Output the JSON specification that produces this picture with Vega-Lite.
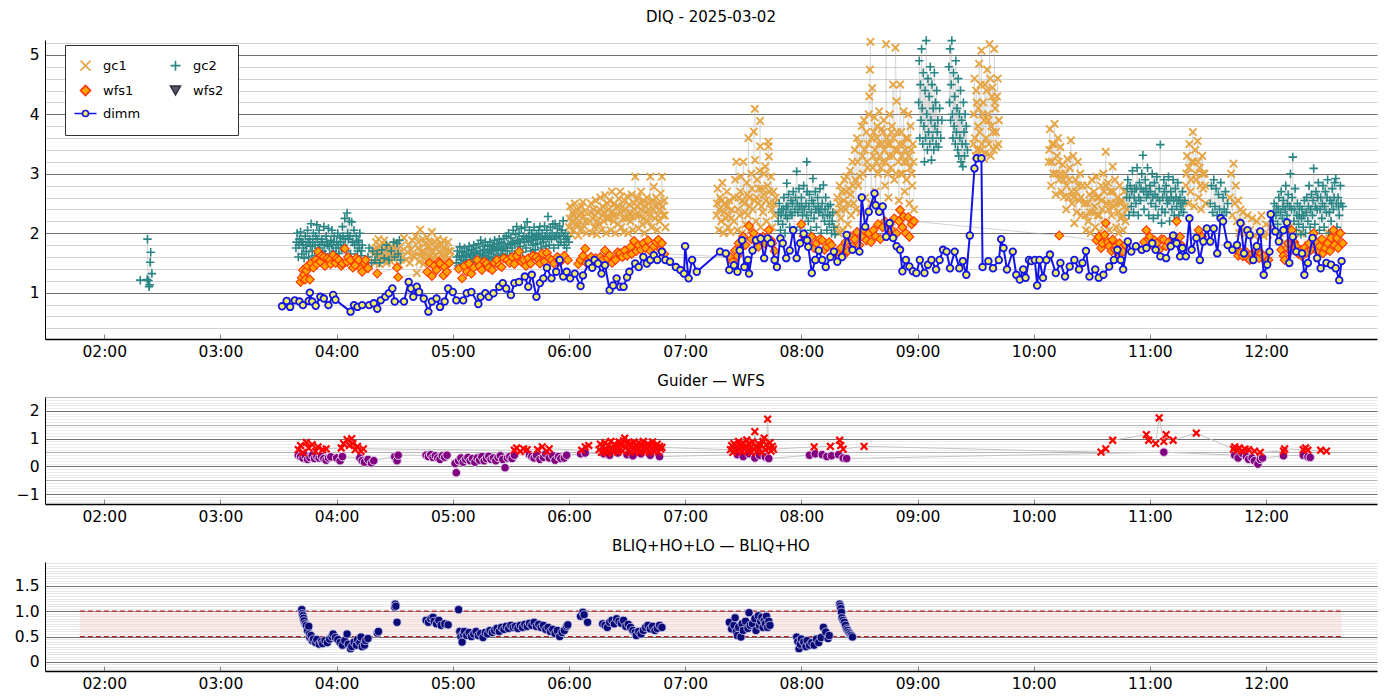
{
"$schema":"https://vega.github.io/schema/vega-lite/v6.json",
"padding":{"left":14,"right":5,"top":10,"bottom":5},
"spacing":14,
"config":{
 "font":"DejaVu Sans",
 "view":{"stroke":null},
 "axis":{"labelFont":"DejaVu Sans","labelFontSize":15.5,"labelColor":"#000","titleFont":"DejaVu Sans"},
 "title":{"font":"DejaVu Sans","fontSize":15,"fontWeight":"normal","color":"#000","offset":8},
 "legend":{"labelFont":"DejaVu Sans"}
},
"datasets":{
"gc1":[
{"t":4.32,"v":1.72,"g":1},{"t":4.33,"v":1.5,"g":1},{"t":4.34,"v":1.85,"g":1},{"t":4.35,"v":1.6,"g":1},{"t":4.36,"v":1.9,"g":1},{"t":4.37,"v":1.48,"g":1},{"t":4.38,"v":1.78,"g":1},{"t":4.39,"v":1.55,"g":1},{"t":4.41,"v":1.88,"g":1},{"t":4.42,"v":1.62,"g":1},{"t":4.43,"v":1.5,"g":1},{"t":4.44,"v":1.8,"g":1},{"t":4.46,"v":1.66,"g":1},{"t":4.47,"v":1.52,"g":1},{"t":4.48,"v":1.75,"g":1},{"t":4.5,"v":1.6,"g":1},{"t":4.52,"v":1.84,"g":1},{"t":4.54,"v":1.47,"g":1},{"t":4.56,"v":1.7,"g":1},{"t":4.58,"v":1.92,"g":1},{"t":4.6,"v":1.55,"g":1},{"t":4.62,"v":1.8,"g":1},{"t":4.63,"v":1.5,"g":1},{"t":4.65,"v":1.88,"g":1},{"t":4.66,"v":1.62,"g":1},{"t":4.68,"v":1.95,"g":1},{"t":4.69,"v":1.33,"g":1},{"t":4.7,"v":1.75,"g":1},{"t":4.71,"v":1.52,"g":1},{"t":4.72,"v":2.06,"g":1},{"t":4.73,"v":1.68,"g":1},{"t":4.74,"v":1.9,"g":1},{"t":4.75,"v":1.48,"g":1},{"t":4.76,"v":1.82,"g":1},{"t":4.77,"v":1.58,"g":1},{"t":4.78,"v":1.93,"g":1},{"t":4.79,"v":1.5,"g":1},{"t":4.8,"v":1.78,"g":1},{"t":4.81,"v":1.62,"g":1},{"t":4.82,"v":2.02,"g":1},{"t":4.83,"v":1.55,"g":1},{"t":4.84,"v":1.86,"g":1},{"t":4.85,"v":1.47,"g":1},{"t":4.86,"v":1.74,"g":1},{"t":4.87,"v":1.9,"g":1},{"t":4.88,"v":1.56,"g":1},{"t":4.9,"v":1.8,"g":1},{"t":4.91,"v":1.5,"g":1},{"t":4.92,"v":1.88,"g":1},{"t":4.93,"v":1.6,"g":1},{"t":4.94,"v":1.72,"g":1},{"t":4.95,"v":1.52,"g":1},{"t":4.96,"v":1.85,"g":1},{"t":4.97,"v":1.58,"g":1},{"t":4.98,"v":1.7,"g":1},
{"t":6.0,"v":2.1,"g":2},{"t":6.01,"v":2.45,"g":2},{"t":6.02,"v":1.98,"g":2},{"t":6.03,"v":2.35,"g":2},{"t":6.04,"v":2.05,"g":2},{"t":6.05,"v":2.5,"g":2},{"t":6.06,"v":2.15,"g":2},{"t":6.07,"v":2.4,"g":2},{"t":6.08,"v":1.96,"g":2},{"t":6.09,"v":2.3,"g":2},{"t":6.1,"v":2.05,"g":2},{"t":6.11,"v":2.45,"g":2},{"t":6.12,"v":2.52,"g":2},{"t":6.13,"v":2.12,"g":2},{"t":6.14,"v":2.38,"g":2},{"t":6.15,"v":2.0,"g":2},{"t":6.18,"v":2.2,"g":2},{"t":6.19,"v":2.5,"g":2},{"t":6.2,"v":2.0,"g":2},{"t":6.21,"v":2.4,"g":2},{"t":6.22,"v":2.1,"g":2},{"t":6.23,"v":2.55,"g":2},{"t":6.24,"v":1.98,"g":2},{"t":6.25,"v":2.35,"g":2},{"t":6.26,"v":2.15,"g":2},{"t":6.27,"v":2.6,"g":2},{"t":6.28,"v":2.05,"g":2},{"t":6.29,"v":2.45,"g":2},{"t":6.3,"v":2.2,"g":2},{"t":6.31,"v":2.64,"g":2},{"t":6.32,"v":2.0,"g":2},{"t":6.33,"v":2.5,"g":2},{"t":6.34,"v":2.25,"g":2},{"t":6.35,"v":2.55,"g":2},{"t":6.36,"v":2.05,"g":2},{"t":6.37,"v":2.7,"g":2},{"t":6.38,"v":2.3,"g":2},{"t":6.39,"v":2.5,"g":2},{"t":6.4,"v":2.0,"g":2},{"t":6.41,"v":2.42,"g":2},{"t":6.42,"v":2.15,"g":2},{"t":6.43,"v":2.58,"g":2},{"t":6.44,"v":2.7,"g":2},{"t":6.45,"v":2.1,"g":2},{"t":6.46,"v":2.45,"g":2},{"t":6.47,"v":2.02,"g":2},{"t":6.48,"v":2.55,"g":2},{"t":6.49,"v":2.25,"g":2},{"t":6.5,"v":2.62,"g":2},{"t":6.51,"v":2.0,"g":2},{"t":6.52,"v":2.48,"g":2},{"t":6.53,"v":2.2,"g":2},{"t":6.54,"v":2.65,"g":2},{"t":6.55,"v":2.05,"g":2},{"t":6.56,"v":2.5,"g":2},{"t":6.57,"v":2.95,"g":2},{"t":6.58,"v":2.3,"g":2},{"t":6.59,"v":2.6,"g":2},{"t":6.6,"v":2.08,"g":2},{"t":6.61,"v":2.5,"g":2},{"t":6.62,"v":2.7,"g":2},{"t":6.63,"v":2.15,"g":2},{"t":6.64,"v":2.55,"g":2},{"t":6.65,"v":2.0,"g":2},{"t":6.66,"v":2.45,"g":2},{"t":6.67,"v":2.6,"g":2},{"t":6.68,"v":2.2,"g":2},{"t":6.69,"v":2.5,"g":2},{"t":6.7,"v":2.95,"g":2},{"t":6.71,"v":2.1,"g":2},{"t":6.72,"v":2.55,"g":2},{"t":6.73,"v":2.78,"g":2},{"t":6.74,"v":2.25,"g":2},{"t":6.75,"v":2.6,"g":2},{"t":6.76,"v":2.05,"g":2},{"t":6.77,"v":2.5,"g":2},{"t":6.78,"v":2.2,"g":2},{"t":6.79,"v":2.67,"g":2},{"t":6.8,"v":2.95,"g":2},{"t":6.81,"v":2.3,"g":2},{"t":6.82,"v":2.55,"g":2},{"t":6.83,"v":2.1,"g":2},
{"t":7.27,"v":2.3,"g":3},{"t":7.28,"v":2.75,"g":3},{"t":7.29,"v":2.05,"g":3},{"t":7.3,"v":2.6,"g":3},{"t":7.31,"v":2.2,"g":3},{"t":7.32,"v":2.85,"g":3},{"t":7.33,"v":2.0,"g":3},{"t":7.34,"v":2.5,"g":3},{"t":7.35,"v":2.25,"g":3},{"t":7.36,"v":2.7,"g":3},{"t":7.37,"v":2.1,"g":3},{"t":7.38,"v":2.55,"g":3},{"t":7.39,"v":2.02,"g":3},{"t":7.4,"v":2.4,"g":3},{"t":7.42,"v":2.2,"g":3},{"t":7.43,"v":2.9,"g":3},{"t":7.44,"v":3.2,"g":3},{"t":7.45,"v":2.05,"g":3},{"t":7.46,"v":2.6,"g":3},{"t":7.47,"v":2.3,"g":3},{"t":7.48,"v":2.95,"g":3},{"t":7.49,"v":2.0,"g":3},{"t":7.5,"v":3.2,"g":3},{"t":7.51,"v":2.5,"g":3},{"t":7.52,"v":2.15,"g":3},{"t":7.53,"v":2.85,"g":3},{"t":7.54,"v":2.3,"g":3},{"t":7.545,"v":3.6,"g":3},{"t":7.55,"v":2.6,"g":3},{"t":7.56,"v":2.05,"g":3},{"t":7.57,"v":3.0,"g":3},{"t":7.58,"v":2.4,"g":3},{"t":7.59,"v":3.71,"g":3},{"t":7.6,"v":4.09,"g":3},{"t":7.602,"v":3.23,"g":3},{"t":7.61,"v":2.2,"g":3},{"t":7.62,"v":2.9,"g":3},{"t":7.63,"v":2.5,"g":3},{"t":7.64,"v":3.05,"g":3},{"t":7.645,"v":3.89,"g":3},{"t":7.646,"v":3.46,"g":3},{"t":7.65,"v":2.1,"g":3},{"t":7.66,"v":2.75,"g":3},{"t":7.67,"v":2.35,"g":3},{"t":7.68,"v":3.0,"g":3},{"t":7.69,"v":3.12,"g":3},{"t":7.7,"v":2.2,"g":3},{"t":7.71,"v":2.8,"g":3},{"t":7.715,"v":3.54,"g":3},{"t":7.717,"v":3.46,"g":3},{"t":7.72,"v":3.29,"g":3},{"t":7.73,"v":2.5,"g":3},{"t":7.74,"v":2.95,"g":3},{"t":7.75,"v":2.1,"g":3},{"t":7.76,"v":2.7,"g":3},{"t":7.77,"v":2.3,"g":3},{"t":7.78,"v":2.6,"g":3},
{"t":8.3,"v":2.1,"g":4},{"t":8.31,"v":2.6,"g":4},{"t":8.32,"v":2.0,"g":4},{"t":8.33,"v":2.8,"g":4},{"t":8.34,"v":2.25,"g":4},{"t":8.35,"v":2.7,"g":4},{"t":8.36,"v":2.05,"g":4},{"t":8.37,"v":2.9,"g":4},{"t":8.38,"v":2.4,"g":4},{"t":8.39,"v":2.95,"g":4},{"t":8.4,"v":2.15,"g":4},{"t":8.41,"v":2.75,"g":4},{"t":8.42,"v":3.05,"g":4},{"t":8.43,"v":2.3,"g":4},{"t":8.44,"v":3.2,"g":4},{"t":8.45,"v":2.5,"g":4},{"t":8.46,"v":3.4,"g":4},{"t":8.47,"v":2.4,"g":4},{"t":8.48,"v":3.6,"g":4},{"t":8.49,"v":2.8,"g":4},{"t":8.5,"v":3.5,"g":4},{"t":8.51,"v":2.35,"g":4},{"t":8.52,"v":3.8,"g":4},{"t":8.53,"v":3.0,"g":4},{"t":8.54,"v":3.9,"g":4},{"t":8.55,"v":2.6,"g":4},{"t":8.56,"v":3.7,"g":4},{"t":8.57,"v":3.1,"g":4},{"t":8.58,"v":4.0,"g":4},{"t":8.585,"v":4.3,"g":4},{"t":8.59,"v":4.75,"g":4},{"t":8.595,"v":5.22,"g":4},{"t":8.6,"v":2.5,"g":4},{"t":8.61,"v":4.44,"g":4},{"t":8.62,"v":3.3,"g":4},{"t":8.63,"v":3.95,"g":4},{"t":8.64,"v":2.7,"g":4},{"t":8.65,"v":3.6,"g":4},{"t":8.66,"v":3.0,"g":4},{"t":8.67,"v":4.05,"g":4},{"t":8.68,"v":2.45,"g":4},{"t":8.69,"v":3.75,"g":4},{"t":8.7,"v":3.2,"g":4},{"t":8.71,"v":3.9,"g":4},{"t":8.72,"v":2.8,"g":4},{"t":8.73,"v":5.18,"g":4},{"t":8.74,"v":3.5,"g":4},{"t":8.75,"v":2.6,"g":4},{"t":8.76,"v":4.0,"g":4},{"t":8.77,"v":3.1,"g":4},{"t":8.78,"v":3.8,"g":4},{"t":8.79,"v":4.5,"g":4},{"t":8.8,"v":2.9,"g":4},{"t":8.81,"v":5.12,"g":4},{"t":8.82,"v":4.22,"g":4},{"t":8.83,"v":3.4,"g":4},{"t":8.84,"v":2.55,"g":4},{"t":8.85,"v":4.5,"g":4},{"t":8.86,"v":3.7,"g":4},{"t":8.87,"v":3.0,"g":4},{"t":8.88,"v":4.05,"g":4},{"t":8.89,"v":2.7,"g":4},{"t":8.9,"v":3.6,"g":4},{"t":8.91,"v":3.2,"g":4},{"t":8.92,"v":4.0,"g":4},{"t":8.93,"v":2.5,"g":4},{"t":8.94,"v":3.8,"g":4},{"t":8.95,"v":3.0,"g":4},{"t":8.96,"v":3.5,"g":4},{"t":8.97,"v":2.4,"g":4},
{"t":9.48,"v":3.5,"g":5},{"t":9.485,"v":4.0,"g":5},{"t":9.49,"v":4.6,"g":5},{"t":9.495,"v":3.6,"g":5},{"t":9.5,"v":3.3,"g":5},{"t":9.505,"v":4.4,"g":5},{"t":9.51,"v":4.2,"g":5},{"t":9.515,"v":3.4,"g":5},{"t":9.52,"v":3.8,"g":5},{"t":9.525,"v":4.1,"g":5},{"t":9.53,"v":4.85,"g":5},{"t":9.535,"v":3.7,"g":5},{"t":9.54,"v":3.4,"g":5},{"t":9.545,"v":4.5,"g":5},{"t":9.55,"v":5.07,"g":5},{"t":9.555,"v":3.5,"g":5},{"t":9.56,"v":4.0,"g":5},{"t":9.565,"v":4.2,"g":5},{"t":9.57,"v":3.26,"g":5},{"t":9.575,"v":3.9,"g":5},{"t":9.58,"v":4.5,"g":5},{"t":9.585,"v":3.35,"g":5},{"t":9.59,"v":3.6,"g":5},{"t":9.595,"v":4.4,"g":5},{"t":9.6,"v":4.75,"g":5},{"t":9.605,"v":4.0,"g":5},{"t":9.61,"v":3.9,"g":5},{"t":9.615,"v":3.5,"g":5},{"t":9.62,"v":5.18,"g":5},{"t":9.625,"v":4.6,"g":5},{"t":9.63,"v":3.3,"g":5},{"t":9.635,"v":3.8,"g":5},{"t":9.64,"v":4.3,"g":5},{"t":9.645,"v":4.45,"g":5},{"t":9.65,"v":3.7,"g":5},{"t":9.655,"v":3.4,"g":5},{"t":9.66,"v":5.1,"g":5},{"t":9.665,"v":4.2,"g":5},{"t":9.67,"v":4.1,"g":5},{"t":9.675,"v":3.7,"g":5},{"t":9.68,"v":3.45,"g":5},{"t":9.685,"v":4.3,"g":5},{"t":9.69,"v":4.6,"g":5},{"t":9.695,"v":3.5,"g":5},{"t":9.7,"v":3.9,"g":5},
{"t":10.13,"v":3.2,"g":6},{"t":10.14,"v":3.75,"g":6},{"t":10.15,"v":2.8,"g":6},{"t":10.16,"v":3.5,"g":6},{"t":10.17,"v":3.0,"g":6},{"t":10.18,"v":3.84,"g":6},{"t":10.19,"v":2.65,"g":6},{"t":10.2,"v":3.3,"g":6},{"t":10.21,"v":3.6,"g":6},{"t":10.22,"v":2.9,"g":6},{"t":10.23,"v":3.45,"g":6},{"t":10.24,"v":2.7,"g":6},{"t":10.25,"v":3.15,"g":6},{"t":10.26,"v":2.61,"g":6},{"t":10.27,"v":3.0,"g":6},{"t":10.28,"v":2.4,"g":6},{"t":10.29,"v":3.25,"g":6},{"t":10.3,"v":2.6,"g":6},{"t":10.31,"v":3.1,"g":6},{"t":10.32,"v":3.56,"g":6},{"t":10.33,"v":2.5,"g":6},{"t":10.34,"v":3.3,"g":6},{"t":10.35,"v":2.17,"g":6},{"t":10.36,"v":2.9,"g":6},{"t":10.37,"v":2.35,"g":6},{"t":10.38,"v":3.2,"g":6},{"t":10.39,"v":2.55,"g":6},{"t":10.4,"v":3.0,"g":6},{"t":10.41,"v":2.3,"g":6},{"t":10.42,"v":2.8,"g":6},{"t":10.44,"v":2.5,"g":6},{"t":10.45,"v":2.05,"g":6},{"t":10.46,"v":2.8,"g":6},{"t":10.47,"v":2.2,"g":6},{"t":10.48,"v":2.65,"g":6},{"t":10.49,"v":2.0,"g":6},{"t":10.5,"v":2.9,"g":6},{"t":10.51,"v":2.35,"g":6},{"t":10.52,"v":2.7,"g":6},{"t":10.53,"v":2.1,"g":6},{"t":10.54,"v":2.95,"g":6},{"t":10.55,"v":2.3,"g":6},{"t":10.56,"v":2.6,"g":6},{"t":10.57,"v":2.02,"g":6},{"t":10.58,"v":2.8,"g":6},{"t":10.59,"v":2.4,"g":6},{"t":10.6,"v":3.0,"g":6},{"t":10.61,"v":2.15,"g":6},{"t":10.62,"v":3.37,"g":6},{"t":10.63,"v":2.5,"g":6},{"t":10.64,"v":2.85,"g":6},{"t":10.65,"v":2.05,"g":6},{"t":10.66,"v":2.7,"g":6},{"t":10.67,"v":2.3,"g":6},{"t":10.68,"v":3.12,"g":6},{"t":10.69,"v":2.45,"g":6},{"t":10.7,"v":2.9,"g":6},{"t":10.71,"v":2.1,"g":6},{"t":10.72,"v":2.6,"g":6},{"t":10.73,"v":2.0,"g":6},{"t":10.74,"v":2.8,"g":6},{"t":10.75,"v":2.25,"g":6},{"t":10.76,"v":2.55,"g":6},{"t":10.77,"v":2.05,"g":6},{"t":10.78,"v":2.7,"g":6},{"t":10.79,"v":2.2,"g":6},{"t":10.8,"v":2.4,"g":6},
{"t":11.31,"v":2.8,"g":7},{"t":11.32,"v":3.3,"g":7},{"t":11.33,"v":2.5,"g":7},{"t":11.34,"v":3.5,"g":7},{"t":11.35,"v":2.7,"g":7},{"t":11.36,"v":3.2,"g":7},{"t":11.37,"v":3.7,"g":7},{"t":11.38,"v":2.45,"g":7},{"t":11.39,"v":3.4,"g":7},{"t":11.4,"v":2.9,"g":7},{"t":11.41,"v":3.55,"g":7},{"t":11.42,"v":2.6,"g":7},{"t":11.43,"v":3.1,"g":7},{"t":11.44,"v":2.4,"g":7},{"t":11.45,"v":3.3,"g":7},{"t":11.46,"v":2.75,"g":7},{"t":11.47,"v":3.0,"g":7},{"t":11.48,"v":2.5,"g":7},
{"t":11.69,"v":2.6,"g":8},{"t":11.7,"v":3.0,"g":8},{"t":11.71,"v":2.3,"g":8},{"t":11.72,"v":3.17,"g":8},{"t":11.73,"v":2.5,"g":8},{"t":11.74,"v":2.8,"g":8},{"t":11.75,"v":2.2,"g":8},{"t":11.76,"v":2.55,"g":8},{"t":11.77,"v":2.0,"g":8},{"t":11.78,"v":2.4,"g":8},{"t":11.79,"v":2.1,"g":8},{"t":11.8,"v":2.35,"g":8},{"t":11.82,"v":1.98,"g":8},{"t":11.84,"v":2.3,"g":8},{"t":11.86,"v":2.05,"g":8},{"t":11.88,"v":2.25,"g":8},{"t":11.9,"v":1.95,"g":8},{"t":11.92,"v":2.2,"g":8},{"t":11.94,"v":2.0,"g":8},{"t":11.96,"v":2.3,"g":8},{"t":11.98,"v":1.95,"g":8},{"t":12.0,"v":2.15,"g":8},{"t":12.02,"v":1.98,"g":8},{"t":12.04,"v":2.1,"g":8},{"t":12.12,"v":2.0,"g":8},{"t":12.16,"v":1.85,"g":8},{"t":12.2,"v":2.1,"g":8},{"t":12.25,"v":1.9,"g":8},{"t":12.3,"v":2.0,"g":8},{"t":12.36,"v":1.8,"g":8},{"t":12.42,"v":1.95,"g":8},{"t":12.48,"v":1.85,"g":8},{"t":12.54,"v":2.0,"g":8},{"t":12.6,"v":1.9,"g":8}
],
"gc1b":[
{"t":4.325,"v":1.65},{"t":4.345,"v":1.75},{"t":4.365,"v":1.68},{"t":4.385,"v":1.62},{"t":4.405,"v":1.72},{"t":4.425,"v":1.78},{"t":4.455,"v":1.6},{"t":4.475,"v":1.7},{"t":4.505,"v":1.75},{"t":4.53,"v":1.65},{"t":4.55,"v":1.78},{"t":4.57,"v":1.6},{"t":4.61,"v":1.68},{"t":4.64,"v":1.72},{"t":4.67,"v":1.6},{"t":4.705,"v":1.85},{"t":4.725,"v":1.62},{"t":4.745,"v":1.7},{"t":4.765,"v":1.65},{"t":4.785,"v":1.75},{"t":4.805,"v":1.85},{"t":4.825,"v":1.7},{"t":4.845,"v":1.62},{"t":4.865,"v":1.8},{"t":4.885,"v":1.68},{"t":4.905,"v":1.65},{"t":4.925,"v":1.75},{"t":4.945,"v":1.62},{"t":4.965,"v":1.7},
{"t":6.005,"v":2.25},{"t":6.025,"v":2.2},{"t":6.045,"v":2.3},{"t":6.065,"v":2.25},{"t":6.085,"v":2.15},{"t":6.105,"v":2.35},{"t":6.125,"v":2.28},{"t":6.145,"v":2.2},{"t":6.185,"v":2.35},{"t":6.205,"v":2.25},{"t":6.225,"v":2.3},{"t":6.245,"v":2.2},{"t":6.265,"v":2.4},{"t":6.285,"v":2.3},{"t":6.305,"v":2.35},{"t":6.325,"v":2.25},{"t":6.345,"v":2.4},{"t":6.365,"v":2.35},{"t":6.385,"v":2.2},{"t":6.405,"v":2.3},{"t":6.425,"v":2.45},{"t":6.445,"v":2.35},{"t":6.465,"v":2.25},{"t":6.485,"v":2.4},{"t":6.505,"v":2.3},{"t":6.525,"v":2.35},{"t":6.545,"v":2.28},{"t":6.565,"v":2.4},{"t":6.585,"v":2.45},{"t":6.605,"v":2.3},{"t":6.625,"v":2.4},{"t":6.645,"v":2.25},{"t":6.665,"v":2.35},{"t":6.685,"v":2.4},{"t":6.705,"v":2.3},{"t":6.725,"v":2.4},{"t":6.745,"v":2.45},{"t":6.765,"v":2.3},{"t":6.785,"v":2.4},{"t":6.805,"v":2.45},{"t":6.825,"v":2.3},
{"t":7.275,"v":2.5},{"t":7.295,"v":2.4},{"t":7.315,"v":2.55},{"t":7.335,"v":2.35},{"t":7.355,"v":2.45},{"t":7.375,"v":2.3},{"t":7.395,"v":2.25},{"t":7.425,"v":2.6},{"t":7.455,"v":2.4},{"t":7.475,"v":2.7},{"t":7.495,"v":2.55},{"t":7.515,"v":2.35},{"t":7.535,"v":2.65},{"t":7.555,"v":2.45},{"t":7.575,"v":2.75},{"t":7.595,"v":2.55},{"t":7.615,"v":2.6},{"t":7.635,"v":2.75},{"t":7.655,"v":2.45},{"t":7.675,"v":2.65},{"t":7.695,"v":2.55},{"t":7.725,"v":2.7},{"t":7.745,"v":2.4},{"t":7.765,"v":2.5},
{"t":8.305,"v":2.35},{"t":8.325,"v":2.5},{"t":8.345,"v":2.4},{"t":8.365,"v":2.55},{"t":8.385,"v":2.7},{"t":8.405,"v":2.5},{"t":8.425,"v":2.65},{"t":8.445,"v":2.8},{"t":8.465,"v":2.9},{"t":8.485,"v":3.2},{"t":8.505,"v":2.95},{"t":8.525,"v":3.3},{"t":8.545,"v":3.4},{"t":8.565,"v":3.2},{"t":8.575,"v":3.5},{"t":8.605,"v":3.6},{"t":8.615,"v":3.1},{"t":8.625,"v":3.7},{"t":8.635,"v":3.4},{"t":8.645,"v":3.2},{"t":8.655,"v":3.8},{"t":8.665,"v":3.5},{"t":8.675,"v":3.3},{"t":8.685,"v":3.1},{"t":8.695,"v":3.5},{"t":8.705,"v":3.7},{"t":8.715,"v":3.4},{"t":8.725,"v":3.2},{"t":8.735,"v":3.6},{"t":8.745,"v":3.0},{"t":8.755,"v":3.3},{"t":8.765,"v":3.5},{"t":8.775,"v":3.7},{"t":8.785,"v":3.3},{"t":8.795,"v":3.6},{"t":8.805,"v":3.4},{"t":8.815,"v":3.0},{"t":8.825,"v":3.7},{"t":8.835,"v":3.2},{"t":8.845,"v":3.5},{"t":8.855,"v":3.0},{"t":8.865,"v":3.3},{"t":8.875,"v":3.5},{"t":8.885,"v":3.2},{"t":8.895,"v":3.4},{"t":8.905,"v":2.9},{"t":8.915,"v":3.6},{"t":8.925,"v":3.3},{"t":8.935,"v":3.1},{"t":8.945,"v":3.4},{"t":8.955,"v":2.8},{"t":8.965,"v":3.2},
{"t":10.135,"v":3.4},{"t":10.155,"v":3.2},{"t":10.175,"v":3.5},{"t":10.195,"v":3.0},{"t":10.215,"v":3.2},{"t":10.235,"v":3.0},{"t":10.255,"v":2.9},{"t":10.285,"v":2.8},{"t":10.305,"v":2.9},{"t":10.325,"v":2.7},{"t":10.345,"v":2.6},{"t":10.365,"v":2.7},{"t":10.385,"v":2.8},{"t":10.405,"v":2.6},{"t":10.445,"v":2.3},{"t":10.465,"v":2.5},{"t":10.485,"v":2.35},{"t":10.505,"v":2.6},{"t":10.525,"v":2.45},{"t":10.545,"v":2.6},{"t":10.565,"v":2.3},{"t":10.585,"v":2.55},{"t":10.605,"v":2.7},{"t":10.625,"v":2.8},{"t":10.645,"v":2.4},{"t":10.665,"v":2.5},{"t":10.685,"v":2.7},{"t":10.705,"v":2.5},{"t":10.725,"v":2.35},{"t":10.745,"v":2.5},{"t":10.765,"v":2.3},{"t":10.785,"v":2.45},
{"t":11.315,"v":3.0},{"t":11.335,"v":3.1},{"t":11.355,"v":2.9},{"t":11.375,"v":3.2},{"t":11.395,"v":3.0},{"t":11.415,"v":3.2},{"t":11.435,"v":2.8},{"t":11.455,"v":3.0},{"t":11.475,"v":2.8}
],
"gc2":[
{"t":2.31,"v":1.21,"g":1},{"t":2.37,"v":1.22,"g":1},{"t":2.372,"v":1.9,"g":1},{"t":2.38,"v":1.2,"g":1},{"t":2.385,"v":1.1,"g":1},{"t":2.39,"v":1.13,"g":1},{"t":2.395,"v":1.51,"g":1},{"t":2.4,"v":1.68,"g":1},{"t":2.41,"v":1.32,"g":1},
{"t":3.65,"v":1.75,"g":2},{"t":3.66,"v":2.0,"g":2},{"t":3.67,"v":1.6,"g":2},{"t":3.68,"v":1.9,"g":2},{"t":3.69,"v":2.02,"g":2},{"t":3.7,"v":1.65,"g":2},{"t":3.71,"v":1.85,"g":2},{"t":3.72,"v":1.58,"g":2},{"t":3.73,"v":1.95,"g":2},{"t":3.74,"v":1.69,"g":2},{"t":3.75,"v":2.05,"g":2},{"t":3.76,"v":1.6,"g":2},{"t":3.77,"v":1.9,"g":2},{"t":3.78,"v":2.16,"g":2},{"t":3.79,"v":1.7,"g":2},{"t":3.8,"v":2.0,"g":2},{"t":3.81,"v":1.62,"g":2},{"t":3.82,"v":1.95,"g":2},{"t":3.83,"v":2.14,"g":2},{"t":3.84,"v":1.75,"g":2},{"t":3.85,"v":2.05,"g":2},{"t":3.86,"v":1.6,"g":2},{"t":3.87,"v":1.9,"g":2},{"t":3.88,"v":1.7,"g":2},{"t":3.89,"v":2.11,"g":2},{"t":3.9,"v":1.65,"g":2},{"t":3.91,"v":1.95,"g":2},{"t":3.92,"v":1.8,"g":2},{"t":3.93,"v":2.08,"g":2},{"t":3.94,"v":1.62,"g":2},{"t":3.95,"v":1.88,"g":2},{"t":3.96,"v":2.05,"g":2},{"t":3.97,"v":1.7,"g":2},{"t":3.98,"v":1.95,"g":2},{"t":3.99,"v":1.6,"g":2},{"t":4.0,"v":1.85,"g":2},{"t":4.01,"v":2.0,"g":2},{"t":4.02,"v":1.66,"g":2},{"t":4.03,"v":1.92,"g":2},{"t":4.04,"v":1.75,"g":2},{"t":4.05,"v":2.11,"g":2},{"t":4.06,"v":1.8,"g":2},{"t":4.07,"v":2.25,"g":2},{"t":4.08,"v":1.7,"g":2},{"t":4.09,"v":2.34,"g":2},{"t":4.1,"v":1.9,"g":2},{"t":4.11,"v":2.2,"g":2},{"t":4.12,"v":1.65,"g":2},{"t":4.13,"v":2.19,"g":2},{"t":4.14,"v":1.85,"g":2},{"t":4.15,"v":2.05,"g":2},{"t":4.16,"v":1.6,"g":2},{"t":4.17,"v":1.95,"g":2},{"t":4.18,"v":1.7,"g":2},{"t":4.19,"v":1.88,"g":2},{"t":4.2,"v":2.0,"g":2},{"t":4.21,"v":1.62,"g":2},{"t":4.22,"v":1.8,"g":2},{"t":4.27,"v":1.6,"g":2},{"t":4.28,"v":1.75,"g":2},{"t":4.3,"v":1.5,"g":2},{"t":4.31,"v":1.7,"g":2},{"t":4.33,"v":1.55,"g":2},{"t":4.35,"v":1.65,"g":2},{"t":4.37,"v":1.5,"g":2},{"t":4.39,"v":1.72,"g":2},{"t":4.41,"v":1.58,"g":2},{"t":4.43,"v":1.8,"g":2},{"t":4.45,"v":1.55,"g":2},{"t":4.47,"v":1.7,"g":2},{"t":4.49,"v":1.85,"g":2},{"t":4.5,"v":1.6,"g":2},{"t":4.52,"v":1.83,"g":2},{"t":4.53,"v":1.65,"g":2},{"t":4.54,"v":1.88,"g":2},{"t":4.55,"v":1.55,"g":2},
{"t":5.03,"v":1.5,"g":3},{"t":5.04,"v":1.7,"g":3},{"t":5.05,"v":1.45,"g":3},{"t":5.06,"v":1.77,"g":3},{"t":5.07,"v":1.55,"g":3},{"t":5.08,"v":1.68,"g":3},{"t":5.09,"v":1.48,"g":3},{"t":5.1,"v":1.75,"g":3},{"t":5.11,"v":1.52,"g":3},{"t":5.12,"v":1.7,"g":3},{"t":5.13,"v":1.5,"g":3},{"t":5.14,"v":1.78,"g":3},{"t":5.15,"v":1.55,"g":3},{"t":5.16,"v":1.72,"g":3},{"t":5.17,"v":1.47,"g":3},{"t":5.18,"v":1.8,"g":3},{"t":5.19,"v":1.58,"g":3},{"t":5.2,"v":1.75,"g":3},{"t":5.21,"v":1.5,"g":3},{"t":5.22,"v":1.82,"g":3},{"t":5.23,"v":1.6,"g":3},{"t":5.24,"v":1.88,"g":3},{"t":5.25,"v":1.52,"g":3},{"t":5.26,"v":1.78,"g":3},{"t":5.27,"v":1.62,"g":3},{"t":5.28,"v":1.85,"g":3},{"t":5.29,"v":1.55,"g":3},{"t":5.3,"v":1.8,"g":3},{"t":5.31,"v":1.6,"g":3},{"t":5.32,"v":1.85,"g":3},{"t":5.33,"v":1.58,"g":3},{"t":5.34,"v":1.78,"g":3},{"t":5.35,"v":1.65,"g":3},{"t":5.36,"v":1.88,"g":3},{"t":5.37,"v":1.55,"g":3},{"t":5.38,"v":1.82,"g":3},{"t":5.39,"v":1.62,"g":3},{"t":5.4,"v":1.9,"g":3},{"t":5.41,"v":1.58,"g":3},{"t":5.42,"v":1.85,"g":3},{"t":5.43,"v":1.65,"g":3},{"t":5.44,"v":1.91,"g":3},{"t":5.45,"v":1.6,"g":3},{"t":5.46,"v":1.95,"g":3},{"t":5.47,"v":1.7,"g":3},{"t":5.48,"v":2.0,"g":3},{"t":5.49,"v":1.62,"g":3},{"t":5.5,"v":1.92,"g":3},{"t":5.51,"v":1.75,"g":3},{"t":5.52,"v":2.05,"g":3},{"t":5.53,"v":1.65,"g":3},{"t":5.54,"v":1.98,"g":3},{"t":5.55,"v":2.11,"g":3},{"t":5.56,"v":1.7,"g":3},{"t":5.57,"v":2.0,"g":3},{"t":5.58,"v":1.78,"g":3},{"t":5.59,"v":2.08,"g":3},{"t":5.6,"v":1.68,"g":3},{"t":5.61,"v":1.95,"g":3},{"t":5.62,"v":2.1,"g":3},{"t":5.63,"v":1.75,"g":3},{"t":5.64,"v":2.19,"g":3},{"t":5.65,"v":1.85,"g":3},{"t":5.66,"v":2.05,"g":3},{"t":5.67,"v":1.7,"g":3},{"t":5.68,"v":2.0,"g":3},{"t":5.69,"v":1.8,"g":3},{"t":5.7,"v":2.1,"g":3},{"t":5.71,"v":1.72,"g":3},{"t":5.72,"v":1.98,"g":3},{"t":5.73,"v":1.82,"g":3},{"t":5.74,"v":2.05,"g":3},{"t":5.75,"v":2.11,"g":3},{"t":5.76,"v":1.75,"g":3},{"t":5.77,"v":2.0,"g":3},{"t":5.78,"v":1.85,"g":3},{"t":5.79,"v":2.12,"g":3},{"t":5.8,"v":1.78,"g":3},{"t":5.81,"v":2.05,"g":3},{"t":5.82,"v":2.28,"g":3},{"t":5.83,"v":1.8,"g":3},{"t":5.84,"v":2.1,"g":3},{"t":5.85,"v":1.9,"g":3},{"t":5.86,"v":2.15,"g":3},{"t":5.87,"v":1.75,"g":3},{"t":5.88,"v":2.16,"g":3},{"t":5.89,"v":1.95,"g":3},{"t":5.9,"v":2.08,"g":3},{"t":5.91,"v":1.8,"g":3},{"t":5.92,"v":2.12,"g":3},{"t":5.93,"v":1.85,"g":3},{"t":5.94,"v":2.05,"g":3},{"t":5.95,"v":2.21,"g":3},{"t":5.96,"v":1.8,"g":3},{"t":5.97,"v":2.0,"g":3},{"t":5.98,"v":1.75,"g":3},{"t":5.99,"v":1.94,"g":3},{"t":6.0,"v":1.85,"g":3},
{"t":7.8,"v":2.2,"g":4},{"t":7.81,"v":2.5,"g":4},{"t":7.82,"v":2.05,"g":4},{"t":7.83,"v":2.4,"g":4},{"t":7.84,"v":2.15,"g":4},{"t":7.85,"v":2.6,"g":4},{"t":7.86,"v":2.0,"g":4},{"t":7.87,"v":2.45,"g":4},{"t":7.875,"v":2.84,"g":4},{"t":7.88,"v":2.25,"g":4},{"t":7.89,"v":2.65,"g":4},{"t":7.9,"v":2.1,"g":4},{"t":7.91,"v":2.55,"g":4},{"t":7.92,"v":2.3,"g":4},{"t":7.93,"v":2.7,"g":4},{"t":7.94,"v":2.05,"g":4},{"t":7.95,"v":2.6,"g":4},{"t":7.96,"v":3.04,"g":4},{"t":7.97,"v":2.35,"g":4},{"t":7.98,"v":2.75,"g":4},{"t":7.99,"v":2.1,"g":4},{"t":8.0,"v":2.6,"g":4},{"t":8.01,"v":2.3,"g":4},{"t":8.02,"v":2.8,"g":4},{"t":8.03,"v":2.0,"g":4},{"t":8.04,"v":2.5,"g":4},{"t":8.047,"v":3.2,"g":4},{"t":8.05,"v":2.7,"g":4},{"t":8.06,"v":2.2,"g":4},{"t":8.07,"v":2.65,"g":4},{"t":8.08,"v":2.05,"g":4},{"t":8.09,"v":2.55,"g":4},{"t":8.1,"v":2.92,"g":4},{"t":8.11,"v":2.25,"g":4},{"t":8.12,"v":2.7,"g":4},{"t":8.13,"v":2.1,"g":4},{"t":8.14,"v":2.6,"g":4},{"t":8.15,"v":2.35,"g":4},{"t":8.16,"v":2.75,"g":4},{"t":8.17,"v":2.0,"g":4},{"t":8.18,"v":2.5,"g":4},{"t":8.19,"v":2.81,"g":4},{"t":8.2,"v":2.2,"g":4},{"t":8.21,"v":2.6,"g":4},{"t":8.22,"v":2.05,"g":4},{"t":8.23,"v":2.45,"g":4},{"t":8.24,"v":2.15,"g":4},{"t":8.25,"v":2.48,"g":4},{"t":8.26,"v":2.0,"g":4},{"t":8.27,"v":2.35,"g":4},{"t":8.28,"v":2.1,"g":4},{"t":8.29,"v":1.98,"g":4},
{"t":9.01,"v":4.2,"g":5},{"t":9.015,"v":4.9,"g":5},{"t":9.02,"v":3.6,"g":5},{"t":9.025,"v":4.5,"g":5},{"t":9.03,"v":3.9,"g":5},{"t":9.035,"v":5.1,"g":5},{"t":9.04,"v":4.1,"g":5},{"t":9.045,"v":3.5,"g":5},{"t":9.05,"v":4.7,"g":5},{"t":9.055,"v":3.8,"g":5},{"t":9.06,"v":3.2,"g":5},{"t":9.065,"v":4.4,"g":5},{"t":9.07,"v":3.6,"g":5},{"t":9.075,"v":5.24,"g":5},{"t":9.08,"v":4.0,"g":5},{"t":9.085,"v":3.4,"g":5},{"t":9.09,"v":4.6,"g":5},{"t":9.095,"v":3.7,"g":5},{"t":9.1,"v":4.3,"g":5},{"t":9.105,"v":3.5,"g":5},{"t":9.11,"v":4.8,"g":5},{"t":9.115,"v":3.9,"g":5},{"t":9.12,"v":3.23,"g":5},{"t":9.125,"v":4.5,"g":5},{"t":9.13,"v":3.6,"g":5},{"t":9.135,"v":4.1,"g":5},{"t":9.14,"v":3.4,"g":5},{"t":9.145,"v":4.7,"g":5},{"t":9.15,"v":3.8,"g":5},{"t":9.155,"v":4.2,"g":5},{"t":9.16,"v":3.5,"g":5},{"t":9.165,"v":4.4,"g":5},{"t":9.17,"v":3.7,"g":5},{"t":9.175,"v":3.9,"g":5},{"t":9.18,"v":3.45,"g":5},{"t":9.19,"v":4.1,"g":5},{"t":9.2,"v":3.6,"g":5},{"t":9.21,"v":3.9,"g":5},
{"t":9.27,"v":4.8,"g":6},{"t":9.275,"v":4.2,"g":6},{"t":9.28,"v":5.1,"g":6},{"t":9.285,"v":3.9,"g":6},{"t":9.29,"v":4.5,"g":6},{"t":9.295,"v":5.24,"g":6},{"t":9.3,"v":4.0,"g":6},{"t":9.305,"v":3.6,"g":6},{"t":9.31,"v":4.7,"g":6},{"t":9.315,"v":3.8,"g":6},{"t":9.32,"v":4.3,"g":6},{"t":9.325,"v":3.5,"g":6},{"t":9.33,"v":4.9,"g":6},{"t":9.335,"v":3.7,"g":6},{"t":9.34,"v":4.1,"g":6},{"t":9.345,"v":3.4,"g":6},{"t":9.35,"v":4.6,"g":6},{"t":9.355,"v":3.3,"g":6},{"t":9.36,"v":4.0,"g":6},{"t":9.365,"v":3.6,"g":6},{"t":9.37,"v":4.4,"g":6},{"t":9.375,"v":3.2,"g":6},{"t":9.38,"v":3.9,"g":6},{"t":9.385,"v":3.5,"g":6},{"t":9.39,"v":3.12,"g":6},{"t":9.395,"v":4.2,"g":6},{"t":9.4,"v":3.7,"g":6},{"t":9.405,"v":3.3,"g":6},{"t":9.41,"v":4.0,"g":6},{"t":9.415,"v":3.5,"g":6},{"t":9.42,"v":3.8,"g":6},{"t":9.43,"v":3.4,"g":6},
{"t":10.8,"v":2.6,"g":7},{"t":10.81,"v":2.9,"g":7},{"t":10.82,"v":2.3,"g":7},{"t":10.83,"v":2.8,"g":7},{"t":10.84,"v":2.45,"g":7},{"t":10.85,"v":3.05,"g":7},{"t":10.86,"v":2.35,"g":7},{"t":10.87,"v":2.75,"g":7},{"t":10.88,"v":2.5,"g":7},{"t":10.89,"v":3.1,"g":7},{"t":10.9,"v":2.3,"g":7},{"t":10.91,"v":2.85,"g":7},{"t":10.92,"v":2.55,"g":7},{"t":10.93,"v":3.0,"g":7},{"t":10.94,"v":3.31,"g":7},{"t":10.95,"v":2.4,"g":7},{"t":10.96,"v":2.9,"g":7},{"t":10.97,"v":2.6,"g":7},{"t":10.98,"v":3.1,"g":7},{"t":10.99,"v":2.3,"g":7},{"t":11.0,"v":2.8,"g":7},{"t":11.01,"v":2.5,"g":7},{"t":11.02,"v":3.0,"g":7},{"t":11.03,"v":2.25,"g":7},{"t":11.04,"v":2.85,"g":7},{"t":11.05,"v":2.45,"g":7},{"t":11.06,"v":2.95,"g":7},{"t":11.07,"v":2.3,"g":7},{"t":11.08,"v":2.75,"g":7},{"t":11.09,"v":3.49,"g":7},{"t":11.1,"v":2.17,"g":7},{"t":11.11,"v":2.6,"g":7},{"t":11.12,"v":2.9,"g":7},{"t":11.13,"v":2.35,"g":7},{"t":11.14,"v":2.8,"g":7},{"t":11.15,"v":2.5,"g":7},{"t":11.16,"v":2.95,"g":7},{"t":11.17,"v":2.2,"g":7},{"t":11.18,"v":2.7,"g":7},{"t":11.19,"v":2.4,"g":7},{"t":11.2,"v":2.9,"g":7},{"t":11.21,"v":2.3,"g":7},{"t":11.22,"v":2.75,"g":7},{"t":11.23,"v":2.45,"g":7},{"t":11.24,"v":2.85,"g":7},{"t":11.25,"v":2.3,"g":7},{"t":11.26,"v":2.6,"g":7},{"t":11.27,"v":2.4,"g":7},{"t":11.28,"v":2.7,"g":7},{"t":11.29,"v":2.35,"g":7},{"t":11.3,"v":2.55,"g":7},
{"t":11.52,"v":2.5,"g":8},{"t":11.53,"v":2.8,"g":8},{"t":11.54,"v":2.35,"g":8},{"t":11.55,"v":2.9,"g":8},{"t":11.56,"v":2.45,"g":8},{"t":11.57,"v":2.75,"g":8},{"t":11.58,"v":2.3,"g":8},{"t":11.59,"v":2.65,"g":8},{"t":11.6,"v":2.4,"g":8},{"t":11.61,"v":2.85,"g":8},{"t":11.62,"v":2.3,"g":8},{"t":11.63,"v":2.6,"g":8},{"t":11.64,"v":2.4,"g":8},{"t":11.65,"v":2.7,"g":8},{"t":11.66,"v":2.35,"g":8},{"t":11.67,"v":2.5,"g":8},
{"t":12.06,"v":2.2,"g":9},{"t":12.07,"v":2.5,"g":9},{"t":12.08,"v":2.05,"g":9},{"t":12.09,"v":2.45,"g":9},{"t":12.1,"v":2.15,"g":9},{"t":12.11,"v":2.6,"g":9},{"t":12.12,"v":2.0,"g":9},{"t":12.13,"v":2.7,"g":9},{"t":12.14,"v":2.25,"g":9},{"t":12.15,"v":2.55,"g":9},{"t":12.16,"v":2.1,"g":9},{"t":12.17,"v":2.8,"g":9},{"t":12.18,"v":2.3,"g":9},{"t":12.19,"v":2.65,"g":9},{"t":12.2,"v":2.05,"g":9},{"t":12.21,"v":3.0,"g":9},{"t":12.22,"v":2.4,"g":9},{"t":12.23,"v":3.28,"g":9},{"t":12.24,"v":2.2,"g":9},{"t":12.25,"v":2.75,"g":9},{"t":12.26,"v":2.05,"g":9},{"t":12.27,"v":2.5,"g":9},{"t":12.28,"v":2.15,"g":9},{"t":12.29,"v":2.45,"g":9},{"t":12.3,"v":1.98,"g":9},{"t":12.31,"v":2.4,"g":9},{"t":12.32,"v":2.1,"g":9},{"t":12.33,"v":2.55,"g":9},{"t":12.34,"v":2.0,"g":9},{"t":12.35,"v":2.6,"g":9},{"t":12.36,"v":2.2,"g":9},{"t":12.37,"v":2.8,"g":9},{"t":12.38,"v":2.1,"g":9},{"t":12.39,"v":2.65,"g":9},{"t":12.4,"v":2.3,"g":9},{"t":12.41,"v":3.09,"g":9},{"t":12.42,"v":2.15,"g":9},{"t":12.43,"v":2.7,"g":9},{"t":12.44,"v":2.4,"g":9},{"t":12.45,"v":2.85,"g":9},{"t":12.46,"v":2.05,"g":9},{"t":12.47,"v":2.6,"g":9},{"t":12.48,"v":2.25,"g":9},{"t":12.49,"v":2.8,"g":9},{"t":12.5,"v":2.1,"g":9},{"t":12.51,"v":2.7,"g":9},{"t":12.52,"v":2.35,"g":9},{"t":12.53,"v":2.9,"g":9},{"t":12.54,"v":2.0,"g":9},{"t":12.55,"v":2.55,"g":9},{"t":12.56,"v":2.2,"g":9},{"t":12.57,"v":2.75,"g":9},{"t":12.58,"v":2.4,"g":9},{"t":12.59,"v":2.85,"g":9},{"t":12.6,"v":2.92,"g":9},{"t":12.61,"v":2.1,"g":9},{"t":12.62,"v":2.6,"g":9},{"t":12.63,"v":2.3,"g":9},{"t":12.64,"v":2.8,"g":9},{"t":12.65,"v":2.0,"g":9},{"t":12.66,"v":2.45,"g":9}
],
"gc2b":[
{"t":3.655,"v":1.85},{"t":3.675,"v":1.8},{"t":3.695,"v":1.85},{"t":3.715,"v":1.75},{"t":3.735,"v":1.8},{"t":3.755,"v":1.85},{"t":3.775,"v":1.78},{"t":3.795,"v":1.85},{"t":3.815,"v":1.8},{"t":3.835,"v":1.9},{"t":3.855,"v":1.8},{"t":3.875,"v":1.85},{"t":3.895,"v":1.8},{"t":3.915,"v":1.85},{"t":3.935,"v":1.78},{"t":3.955,"v":1.8},{"t":3.975,"v":1.85},{"t":3.995,"v":1.75},{"t":4.015,"v":1.8},{"t":4.035,"v":1.85},{"t":4.055,"v":1.95},{"t":4.075,"v":1.9},{"t":4.095,"v":2.0},{"t":4.115,"v":1.95},{"t":4.135,"v":1.85},{"t":4.155,"v":1.8},{"t":4.175,"v":1.85},{"t":4.195,"v":1.75},{"t":4.215,"v":1.7},
{"t":5.035,"v":1.6},{"t":5.055,"v":1.62},{"t":5.075,"v":1.6},{"t":5.095,"v":1.62},{"t":5.115,"v":1.6},{"t":5.135,"v":1.65},{"t":5.155,"v":1.62},{"t":5.175,"v":1.65},{"t":5.195,"v":1.68},{"t":5.215,"v":1.65},{"t":5.235,"v":1.7},{"t":5.255,"v":1.65},{"t":5.275,"v":1.72},{"t":5.295,"v":1.68},{"t":5.315,"v":1.72},{"t":5.335,"v":1.7},{"t":5.355,"v":1.75},{"t":5.375,"v":1.72},{"t":5.395,"v":1.75},{"t":5.415,"v":1.72},{"t":5.435,"v":1.78},{"t":5.455,"v":1.75},{"t":5.475,"v":1.82},{"t":5.495,"v":1.8},{"t":5.515,"v":1.85},{"t":5.535,"v":1.82},{"t":5.555,"v":1.88},{"t":5.575,"v":1.85},{"t":5.595,"v":1.9},{"t":5.615,"v":1.85},{"t":5.635,"v":1.92},{"t":5.655,"v":1.95},{"t":5.675,"v":1.88},{"t":5.695,"v":1.92},{"t":5.715,"v":1.9},{"t":5.735,"v":1.95},{"t":5.755,"v":1.92},{"t":5.775,"v":1.9},{"t":5.795,"v":1.95},{"t":5.815,"v":1.92},{"t":5.835,"v":1.95},{"t":5.855,"v":2.0},{"t":5.875,"v":1.95},{"t":5.895,"v":1.92},{"t":5.915,"v":1.95},{"t":5.935,"v":2.0},{"t":5.955,"v":1.95},{"t":5.975,"v":1.9},
{"t":7.805,"v":2.35},{"t":7.825,"v":2.3},{"t":7.845,"v":2.4},{"t":7.865,"v":2.3},{"t":7.885,"v":2.45},{"t":7.905,"v":2.35},{"t":7.925,"v":2.5},{"t":7.945,"v":2.4},{"t":7.965,"v":2.5},{"t":7.985,"v":2.45},{"t":8.005,"v":2.45},{"t":8.025,"v":2.4},{"t":8.045,"v":2.3},{"t":8.065,"v":2.45},{"t":8.085,"v":2.35},{"t":8.105,"v":2.5},{"t":8.125,"v":2.4},{"t":8.145,"v":2.45},{"t":8.165,"v":2.4},{"t":8.185,"v":2.3},{"t":8.205,"v":2.4},{"t":8.225,"v":2.3},{"t":8.245,"v":2.3},{"t":8.265,"v":2.2},
{"t":10.805,"v":2.75},{"t":10.825,"v":2.6},{"t":10.845,"v":2.7},{"t":10.865,"v":2.6},{"t":10.885,"v":2.75},{"t":10.905,"v":2.6},{"t":10.925,"v":2.75},{"t":10.945,"v":2.7},{"t":10.965,"v":2.75},{"t":10.985,"v":2.65},{"t":11.005,"v":2.7},{"t":11.025,"v":2.6},{"t":11.045,"v":2.65},{"t":11.065,"v":2.6},{"t":11.085,"v":2.55},{"t":11.105,"v":2.4},{"t":11.125,"v":2.7},{"t":11.145,"v":2.6},{"t":11.165,"v":2.55},{"t":11.185,"v":2.6},{"t":11.205,"v":2.55},{"t":11.225,"v":2.6},{"t":11.245,"v":2.55},{"t":11.265,"v":2.5},{"t":11.285,"v":2.5},
{"t":12.065,"v":2.35},{"t":12.085,"v":2.3},{"t":12.105,"v":2.4},{"t":12.125,"v":2.35},{"t":12.145,"v":2.45},{"t":12.165,"v":2.4},{"t":12.185,"v":2.5},{"t":12.205,"v":2.45},{"t":12.225,"v":2.6},{"t":12.245,"v":2.4},{"t":12.265,"v":2.3},{"t":12.285,"v":2.3},{"t":12.305,"v":2.25},{"t":12.325,"v":2.3},{"t":12.345,"v":2.35},{"t":12.365,"v":2.45},{"t":12.385,"v":2.4},{"t":12.405,"v":2.55},{"t":12.425,"v":2.45},{"t":12.445,"v":2.6},{"t":12.465,"v":2.4},{"t":12.485,"v":2.5},{"t":12.505,"v":2.45},{"t":12.525,"v":2.6},{"t":12.545,"v":2.35},{"t":12.565,"v":2.5},{"t":12.585,"v":2.6},{"t":12.605,"v":2.5},{"t":12.625,"v":2.45},{"t":12.645,"v":2.5}
],
"wfs1":[
{"t":3.69,"v":1.18},{"t":3.7,"v":1.25},{"t":3.71,"v":1.38},{"t":3.72,"v":1.3},{"t":3.73,"v":1.22},{"t":3.74,"v":1.37},{"t":3.75,"v":1.45},{"t":3.77,"v":1.22},{"t":3.78,"v":1.5},{"t":3.8,"v":1.42},{"t":3.82,"v":1.55},{"t":3.83,"v":1.48},{"t":3.84,"v":1.69},{"t":3.86,"v":1.52},{"t":3.87,"v":1.62},{"t":3.89,"v":1.6},{"t":3.9,"v":1.45},{"t":3.92,"v":1.58},{"t":3.94,"v":1.55},{"t":3.95,"v":1.48},{"t":3.97,"v":1.63},{"t":3.99,"v":1.5},{"t":4.0,"v":1.58},{"t":4.02,"v":1.55},{"t":4.04,"v":1.45},{"t":4.05,"v":1.49},{"t":4.07,"v":1.74},{"t":4.09,"v":1.52},{"t":4.1,"v":1.6},{"t":4.12,"v":1.55},{"t":4.14,"v":1.42},{"t":4.16,"v":1.46},{"t":4.17,"v":1.58},{"t":4.19,"v":1.55},{"t":4.21,"v":1.4},{"t":4.22,"v":1.35},{"t":4.24,"v":1.5},{"t":4.25,"v":1.55},{"t":4.27,"v":1.41},{"t":4.35,"v":1.32},{"t":4.52,"v":1.42},{"t":4.53,"v":1.26},
{"t":4.78,"v":1.35},{"t":4.8,"v":1.5},{"t":4.82,"v":1.28},{"t":4.84,"v":1.45},{"t":4.86,"v":1.38},{"t":4.88,"v":1.52},{"t":4.89,"v":1.49},{"t":4.92,"v":1.29},{"t":4.93,"v":1.43},{"t":4.95,"v":1.35},{"t":4.97,"v":1.5},
{"t":5.05,"v":1.4},{"t":5.08,"v":1.24},{"t":5.1,"v":1.45},{"t":5.12,"v":1.35},{"t":5.14,"v":1.49},{"t":5.16,"v":1.32},{"t":5.18,"v":1.42},{"t":5.21,"v":1.55},{"t":5.23,"v":1.45},{"t":5.25,"v":1.38},{"t":5.27,"v":1.52},{"t":5.29,"v":1.49},{"t":5.31,"v":1.42},{"t":5.34,"v":1.38},{"t":5.36,"v":1.5},{"t":5.38,"v":1.55},{"t":5.4,"v":1.46},{"t":5.42,"v":1.43},{"t":5.44,"v":1.58},{"t":5.47,"v":1.55},{"t":5.49,"v":1.5},{"t":5.51,"v":1.6},{"t":5.53,"v":1.48},{"t":5.55,"v":1.62},{"t":5.57,"v":1.69},{"t":5.59,"v":1.52},{"t":5.61,"v":1.55},{"t":5.63,"v":1.45},{"t":5.65,"v":1.58},{"t":5.67,"v":1.49},{"t":5.69,"v":1.62},{"t":5.72,"v":1.6},{"t":5.74,"v":1.55},{"t":5.75,"v":1.49},{"t":5.77,"v":1.66},{"t":5.79,"v":1.52},{"t":5.81,"v":1.67},{"t":5.83,"v":1.58},{"t":5.85,"v":1.55},{"t":5.87,"v":1.49},{"t":5.9,"v":1.6},{"t":5.92,"v":1.52},{"t":5.94,"v":1.55},{"t":5.96,"v":1.62},{"t":5.99,"v":1.55},
{"t":6.08,"v":1.48},{"t":6.1,"v":1.55},{"t":6.12,"v":1.62},{"t":6.14,"v":1.74},{"t":6.15,"v":1.5},{"t":6.17,"v":1.55},{"t":6.19,"v":1.6},{"t":6.21,"v":1.49},{"t":6.23,"v":1.58},{"t":6.25,"v":1.52},{"t":6.27,"v":1.6},{"t":6.29,"v":1.55},{"t":6.31,"v":1.71},{"t":6.33,"v":1.58},{"t":6.35,"v":1.63},{"t":6.37,"v":1.5},{"t":6.4,"v":1.55},{"t":6.42,"v":1.68},{"t":6.44,"v":1.66},{"t":6.46,"v":1.6},{"t":6.48,"v":1.71},{"t":6.5,"v":1.62},{"t":6.53,"v":1.77},{"t":6.54,"v":1.65},{"t":6.56,"v":1.87},{"t":6.58,"v":1.7},{"t":6.6,"v":1.8},{"t":6.62,"v":1.72},{"t":6.64,"v":1.83},{"t":6.66,"v":1.75},{"t":6.68,"v":1.88},{"t":6.7,"v":1.7},{"t":6.73,"v":1.78},{"t":6.75,"v":1.85},{"t":6.77,"v":1.89},{"t":6.79,"v":1.72},{"t":6.8,"v":1.83},{"t":6.82,"v":1.65},
{"t":7.39,"v":1.6},{"t":7.41,"v":1.52},{"t":7.43,"v":1.71},{"t":7.45,"v":1.62},{"t":7.46,"v":1.83},{"t":7.48,"v":1.75},{"t":7.5,"v":1.94},{"t":7.52,"v":1.8},{"t":7.55,"v":2.12},{"t":7.57,"v":1.9},{"t":7.59,"v":2.0},{"t":7.61,"v":1.85},{"t":7.63,"v":1.77},{"t":7.65,"v":1.92},{"t":7.67,"v":1.94},{"t":7.69,"v":1.82},{"t":7.72,"v":2.05},{"t":7.74,"v":1.88},{"t":7.75,"v":1.83},{"t":7.77,"v":1.7},
{"t":8.0,"v":2.15},{"t":8.02,"v":1.95},{"t":8.05,"v":1.88},{"t":8.07,"v":1.8},{"t":8.09,"v":1.94},{"t":8.11,"v":1.75},{"t":8.13,"v":1.83},{"t":8.16,"v":1.9},{"t":8.18,"v":1.88},{"t":8.2,"v":1.72},{"t":8.22,"v":1.77},{"t":8.24,"v":1.85},{"t":8.26,"v":1.8},{"t":8.28,"v":1.65},{"t":8.31,"v":1.69},
{"t":8.34,"v":1.75},{"t":8.36,"v":1.62},{"t":8.38,"v":1.85},{"t":8.4,"v":1.7},{"t":8.42,"v":1.95},{"t":8.44,"v":1.78},{"t":8.46,"v":1.9},{"t":8.48,"v":2.02},{"t":8.5,"v":1.8},{"t":8.52,"v":1.95},{"t":8.54,"v":2.05},{"t":8.56,"v":1.88},{"t":8.58,"v":2.0},{"t":8.6,"v":1.85},{"t":8.62,"v":2.05},{"t":8.64,"v":1.95},{"t":8.66,"v":2.15},{"t":8.68,"v":1.9},{"t":8.7,"v":2.1},{"t":8.72,"v":2.2},{"t":8.74,"v":1.95},{"t":8.76,"v":2.15},{"t":8.78,"v":2.05},{"t":8.8,"v":2.25},{"t":8.82,"v":2.0},{"t":8.84,"v":2.2},{"t":8.85,"v":2.39},{"t":8.87,"v":2.1},{"t":8.88,"v":2.28},{"t":8.9,"v":2.0},{"t":8.92,"v":2.27},{"t":8.93,"v":1.94},{"t":8.95,"v":2.15},{"t":8.97,"v":2.2},
{"t":10.22,"v":1.96},
{"t":10.54,"v":1.88},{"t":10.56,"v":1.94},{"t":10.58,"v":1.75},{"t":10.59,"v":1.83},{"t":10.61,"v":1.97},{"t":10.62,"v":2.17},{"t":10.64,"v":1.85},{"t":10.65,"v":1.78},{"t":10.67,"v":1.7},{"t":10.68,"v":1.89},{"t":10.7,"v":1.72},{"t":10.71,"v":1.78},{"t":10.73,"v":1.66},{"t":10.74,"v":1.83},{"t":10.76,"v":1.75},{"t":10.77,"v":1.69},{"t":10.79,"v":1.8},
{"t":10.95,"v":1.85},{"t":10.97,"v":2.05},{"t":10.99,"v":1.9},{"t":11.0,"v":1.94},{"t":11.02,"v":1.8},{"t":11.04,"v":1.88},{"t":11.06,"v":1.83},{"t":11.08,"v":1.72},{"t":11.1,"v":1.9},{"t":11.12,"v":1.89},{"t":11.14,"v":1.78},{"t":11.16,"v":1.85},{"t":11.18,"v":1.8},{"t":11.2,"v":1.92},{"t":11.23,"v":2.2},{"t":11.24,"v":1.85},{"t":11.26,"v":1.94},{"t":11.28,"v":1.78},
{"t":11.42,"v":2.05},{"t":11.45,"v":1.94},
{"t":11.74,"v":1.72},{"t":11.76,"v":1.62},{"t":11.78,"v":1.68},{"t":11.8,"v":1.61},{"t":11.82,"v":1.7},{"t":11.84,"v":1.58},{"t":11.86,"v":1.55},{"t":11.88,"v":1.65},{"t":11.9,"v":1.6},{"t":11.92,"v":1.72},{"t":11.94,"v":1.58},{"t":11.96,"v":1.66},{"t":11.98,"v":1.61},{"t":12.0,"v":1.52},{"t":12.02,"v":1.55},
{"t":12.13,"v":1.72},{"t":12.15,"v":1.62},{"t":12.16,"v":1.55},{"t":12.18,"v":1.75},{"t":12.19,"v":1.83},{"t":12.21,"v":1.7},{"t":12.22,"v":2.05},{"t":12.24,"v":1.85},{"t":12.26,"v":1.78},{"t":12.28,"v":1.65},{"t":12.3,"v":1.72},{"t":12.31,"v":1.61},{"t":12.33,"v":1.75},{"t":12.35,"v":1.68},{"t":12.37,"v":1.83},{"t":12.39,"v":1.72},{"t":12.41,"v":2.0},{"t":12.43,"v":1.85},{"t":12.44,"v":1.7},{"t":12.46,"v":1.78},{"t":12.48,"v":1.9},{"t":12.49,"v":1.66},{"t":12.51,"v":1.75},{"t":12.53,"v":1.83},{"t":12.55,"v":1.7},{"t":12.56,"v":1.92},{"t":12.58,"v":2.05},{"t":12.59,"v":1.8},{"t":12.61,"v":1.92},{"t":12.62,"v":1.75},{"t":12.64,"v":2.0},{"t":12.66,"v":1.83}
],
"dimm":[
{"t":3.53,"v":0.77},{"t":3.57,"v":0.86},{"t":3.6,"v":0.76},{"t":3.64,"v":0.87},{"t":3.68,"v":0.85},{"t":3.71,"v":0.79},{"t":3.76,"v":0.86},{"t":3.77,"v":1.0},{"t":3.79,"v":0.85},{"t":3.82,"v":0.78},{"t":3.86,"v":0.93},{"t":3.89,"v":0.9},{"t":3.93,"v":0.79},{"t":3.97,"v":0.96},{"t":3.99,"v":0.88},{"t":4.12,"v":0.68},{"t":4.15,"v":0.79},{"t":4.18,"v":0.76},{"t":4.22,"v":0.79},{"t":4.28,"v":0.79},{"t":4.32,"v":0.82},{"t":4.35,"v":0.73},{"t":4.38,"v":0.87},{"t":4.42,"v":0.93},{"t":4.45,"v":0.99},{"t":4.48,"v":1.07},{"t":4.5,"v":0.85},{"t":4.58,"v":0.85},{"t":4.62,"v":1.18},{"t":4.64,"v":1.07},{"t":4.66,"v":0.93},{"t":4.69,"v":1.1},{"t":4.71,"v":1.01},{"t":4.75,"v":0.9},{"t":4.79,"v":0.68},{"t":4.82,"v":0.85},{"t":4.86,"v":0.9},
{"t":4.89,"v":0.76},{"t":4.93,"v":0.85},{"t":4.96,"v":1.07},{"t":5.0,"v":1.01},{"t":5.03,"v":0.87},{"t":5.09,"v":0.87},{"t":5.12,"v":0.99},{"t":5.16,"v":1.01},{"t":5.22,"v":0.81},{"t":5.24,"v":0.93},{"t":5.28,"v":0.99},{"t":5.31,"v":0.93},{"t":5.35,"v":0.99},{"t":5.4,"v":1.1},{"t":5.43,"v":1.16},{"t":5.46,"v":1.07},{"t":5.5,"v":0.96},{"t":5.53,"v":1.16},{"t":5.57,"v":1.18},{"t":5.62,"v":1.27},{"t":5.65,"v":1.1},{"t":5.68,"v":1.3},{"t":5.72,"v":0.93},{"t":5.75,"v":1.16},{"t":5.78,"v":1.24},{"t":5.81,"v":1.42},{"t":5.85,"v":1.24},{"t":5.89,"v":1.35},{"t":5.92,"v":1.55},{"t":5.95,"v":1.27},{"t":5.98,"v":1.35},{"t":6.01,"v":1.24},{"t":6.05,"v":1.32},{"t":6.1,"v":1.11},{"t":6.12,"v":1.29},{"t":6.17,"v":1.49},{"t":6.2,"v":1.42},{"t":6.22,"v":1.55},{"t":6.25,"v":1.49},{"t":6.28,"v":1.32},{"t":6.31,"v":1.46},{"t":6.35,"v":1.04},{"t":6.38,"v":1.12},{"t":6.41,"v":1.24},{"t":6.44,"v":1.1},{"t":6.47,"v":1.1},{"t":6.5,"v":1.26},{"t":6.52,"v":1.35},{"t":6.57,"v":1.49},{"t":6.6,"v":1.43},{"t":6.64,"v":1.6},{"t":6.67,"v":1.49},{"t":6.7,"v":1.55},{"t":6.73,"v":1.63},{"t":6.76,"v":1.55},{"t":6.8,"v":1.69},{"t":6.83,"v":1.55},{"t":6.87,"v":1.52},{"t":6.92,"v":1.43},{"t":6.96,"v":1.38},{"t":6.99,"v":1.32},{"t":7.0,"v":1.78},{"t":7.03,"v":1.24},{"t":7.06,"v":1.55},{"t":7.1,"v":1.35},{"t":7.3,"v":1.69},{"t":7.35,"v":1.66},{"t":7.38,"v":1.38},{"t":7.42,"v":1.46},{"t":7.45,"v":1.35},{"t":7.47,"v":1.71},{"t":7.49,"v":1.88},{"t":7.51,"v":1.43},{"t":7.54,"v":1.55},{"t":7.55,"v":1.32},{"t":7.58,"v":1.71},{"t":7.61,"v":1.88},{"t":7.65,"v":1.91},{"t":7.68,"v":1.58},{"t":7.71,"v":1.91},{"t":7.74,"v":1.83},{"t":7.77,"v":1.55},{"t":7.79,"v":1.43},{"t":7.82,"v":1.91},{"t":7.84,"v":1.83},{"t":7.87,"v":1.58},{"t":7.9,"v":1.71},{"t":7.93,"v":2.05},{"t":7.96,"v":1.58},{"t":7.99,"v":1.83},{"t":8.02,"v":1.99},{"t":8.05,"v":1.88},{"t":8.06,"v":1.77},{"t":8.09,"v":1.33},{"t":8.12,"v":1.55},{"t":8.15,"v":1.71},{"t":8.18,"v":1.55},{"t":8.21,"v":1.43},{"t":8.25,"v":1.6},{"t":8.28,"v":1.69},{"t":8.31,"v":1.52},{"t":8.35,"v":1.6},
{"t":8.39,"v":1.97},{"t":8.44,"v":1.72},{"t":8.5,"v":1.69},{"t":8.52,"v":2.6},{"t":8.55,"v":2.11},{"t":8.58,"v":2.36},{"t":8.63,"v":2.67},{"t":8.64,"v":2.47},{"t":8.67,"v":2.36},{"t":8.7,"v":2.45},{"t":8.73,"v":1.94},{"t":8.76,"v":2.17},{"t":8.79,"v":1.92},{"t":8.82,"v":1.78},{"t":8.85,"v":1.72},{"t":8.87,"v":1.36},{"t":8.9,"v":1.55},{"t":8.93,"v":1.44},{"t":8.96,"v":1.36},{"t":8.99,"v":1.33},{"t":9.02,"v":1.55},{"t":9.06,"v":1.33},{"t":9.09,"v":1.47},{"t":9.12,"v":1.55},{"t":9.16,"v":1.39},{"t":9.19,"v":1.55},{"t":9.22,"v":1.72},{"t":9.25,"v":1.69},{"t":9.28,"v":1.41},{"t":9.32,"v":1.69},{"t":9.36,"v":1.41},{"t":9.39,"v":1.53},{"t":9.42,"v":1.3},{"t":9.45,"v":1.96},{"t":9.49,"v":3.09},{"t":9.51,"v":3.26},{"t":9.55,"v":3.26},{"t":9.56,"v":1.43},{"t":9.61,"v":1.53},{"t":9.65,"v":1.41},{"t":9.7,"v":1.55},{"t":9.72,"v":1.9},{"t":9.74,"v":1.75},{"t":9.77,"v":1.39},{"t":9.82,"v":1.69},{"t":9.85,"v":1.3},{"t":9.88,"v":1.22},{"t":9.91,"v":1.39},{"t":9.93,"v":1.25},{"t":9.96,"v":1.55},{"t":9.98,"v":1.53},{"t":10.01,"v":1.55},{"t":10.03,"v":1.12},{"t":10.05,"v":1.55},{"t":10.08,"v":1.25},{"t":10.11,"v":1.55},{"t":10.14,"v":1.64},{"t":10.19,"v":1.33},{"t":10.23,"v":1.5},{"t":10.27,"v":1.27},{"t":10.31,"v":1.44},{"t":10.35,"v":1.55},{"t":10.39,"v":1.39},{"t":10.42,"v":1.5},{"t":10.45,"v":1.7},{"t":10.48,"v":1.27},{"t":10.53,"v":1.39},{"t":10.56,"v":1.25},{"t":10.6,"v":1.3},{"t":10.65,"v":1.44},{"t":10.69,"v":1.55},{"t":10.72,"v":1.72},{"t":10.75,"v":1.55},{"t":10.77,"v":1.39},{"t":10.81,"v":1.86},{"t":10.84,"v":1.69},{"t":10.88,"v":1.78},{"t":10.93,"v":1.72},{"t":10.97,"v":1.75},{"t":11.02,"v":1.83},{"t":11.05,"v":1.72},{"t":11.09,"v":1.61},{"t":11.14,"v":1.58},{"t":11.18,"v":1.78},{"t":11.2,"v":1.96},{"t":11.23,"v":1.83},{"t":11.26,"v":1.61},{"t":11.28,"v":1.75},{"t":11.31,"v":1.61},{"t":11.34,"v":2.25},{"t":11.36,"v":1.72},{"t":11.4,"v":1.92},{"t":11.43,"v":1.55},{"t":11.46,"v":1.86},{"t":11.49,"v":2.08},{"t":11.52,"v":1.86},{"t":11.55,"v":2.08},{"t":11.58,"v":1.66},{"t":11.61,"v":2.25},{"t":11.63,"v":2.2},{"t":11.67,"v":1.8},{"t":11.71,"v":1.72},{"t":11.75,"v":1.8},{"t":11.78,"v":2.17},{"t":11.81,"v":1.66},{"t":11.84,"v":2.05},{"t":11.86,"v":1.97},{"t":11.89,"v":1.55},{"t":11.92,"v":1.78},{"t":11.95,"v":2.03},{"t":11.98,"v":1.3},{"t":12.01,"v":1.47},{"t":12.03,"v":1.69},{"t":12.04,"v":2.32},{"t":12.08,"v":2.03},{"t":12.11,"v":1.86},{"t":12.15,"v":2.05},{"t":12.18,"v":2.18},{"t":12.2,"v":1.5},{"t":12.23,"v":1.94},{"t":12.26,"v":1.69},{"t":12.31,"v":1.66},{"t":12.33,"v":1.3},{"t":12.36,"v":1.5},{"t":12.4,"v":1.92},{"t":12.44,"v":1.58},{"t":12.47,"v":1.41},{"t":12.52,"v":1.5},{"t":12.56,"v":1.47},{"t":12.6,"v":1.41},{"t":12.63,"v":1.21},{"t":12.65,"v":1.53}
],
"gr":[
{"t":3.67,"v":0.6},{"t":3.69,"v":0.75},{"t":3.71,"v":0.49},{"t":3.74,"v":0.86},{"t":3.76,"v":0.66},{"t":3.79,"v":0.78},{"t":3.82,"v":0.54},{"t":3.84,"v":0.7},{"t":3.88,"v":0.6},{"t":3.91,"v":0.63},{"t":4.04,"v":0.66},{"t":4.06,"v":0.82},{"t":4.09,"v":0.96},{"t":4.11,"v":0.75},{"t":4.13,"v":1.0},{"t":4.14,"v":0.82},{"t":4.16,"v":0.6},{"t":4.18,"v":0.72},{"t":4.21,"v":0.54},{"t":4.23,"v":0.63},
{"t":5.53,"v":0.58},{"t":5.55,"v":0.66},{"t":5.58,"v":0.54},{"t":5.61,"v":0.63},{"t":5.64,"v":0.6},{"t":5.73,"v":0.6},{"t":5.77,"v":0.7},{"t":5.81,"v":0.54},{"t":5.83,"v":0.63},{"t":6.11,"v":0.58},{"t":6.14,"v":0.7},{"t":6.17,"v":0.75},
{"t":6.26,"v":0.6},{"t":6.27,"v":0.8},{"t":6.28,"v":0.5},{"t":6.29,"v":0.7},{"t":6.3,"v":0.55},{"t":6.31,"v":0.85},{"t":6.32,"v":0.62},{"t":6.33,"v":0.48},{"t":6.34,"v":0.75},{"t":6.35,"v":0.58},{"t":6.36,"v":0.9},{"t":6.37,"v":0.65},{"t":6.38,"v":0.5},{"t":6.39,"v":0.8},{"t":6.4,"v":0.6},{"t":6.41,"v":0.72},{"t":6.42,"v":0.52},{"t":6.43,"v":0.88},{"t":6.44,"v":0.62},{"t":6.45,"v":0.78},{"t":6.46,"v":0.55},{"t":6.47,"v":0.92},{"t":6.48,"v":1.02},{"t":6.49,"v":0.68},{"t":6.5,"v":0.85},{"t":6.51,"v":0.58},{"t":6.52,"v":0.8},{"t":6.53,"v":0.5},{"t":6.54,"v":0.75},{"t":6.55,"v":0.62},{"t":6.56,"v":0.88},{"t":6.57,"v":0.55},{"t":6.58,"v":0.72},{"t":6.59,"v":0.6},{"t":6.6,"v":0.85},{"t":6.61,"v":0.5},{"t":6.62,"v":0.78},{"t":6.63,"v":0.64},{"t":6.64,"v":0.9},{"t":6.65,"v":0.55},{"t":6.66,"v":0.7},{"t":6.67,"v":0.6},{"t":6.68,"v":0.82},{"t":6.69,"v":0.5},{"t":6.7,"v":0.75},{"t":6.71,"v":0.62},{"t":6.72,"v":0.88},{"t":6.73,"v":0.55},{"t":6.74,"v":0.7},{"t":6.75,"v":0.6},{"t":6.76,"v":0.8},{"t":6.77,"v":0.52},{"t":6.78,"v":0.72},{"t":6.79,"v":0.62},{"t":6.8,"v":0.68},
{"t":7.39,"v":0.6},{"t":7.4,"v":0.75},{"t":7.41,"v":0.5},{"t":7.42,"v":0.82},{"t":7.43,"v":0.62},{"t":7.44,"v":0.7},{"t":7.45,"v":0.55},{"t":7.46,"v":0.9},{"t":7.47,"v":0.65},{"t":7.48,"v":0.78},{"t":7.49,"v":0.52},{"t":7.5,"v":0.85},{"t":7.51,"v":0.6},{"t":7.52,"v":0.72},{"t":7.53,"v":0.95},{"t":7.54,"v":0.58},{"t":7.55,"v":0.8},{"t":7.56,"v":0.66},{"t":7.57,"v":0.5},{"t":7.58,"v":0.88},{"t":7.59,"v":0.62},{"t":7.6,"v":1.25},{"t":7.61,"v":0.7},{"t":7.62,"v":0.55},{"t":7.63,"v":0.82},{"t":7.64,"v":0.64},{"t":7.65,"v":0.76},{"t":7.66,"v":0.5},{"t":7.67,"v":0.9},{"t":7.68,"v":1.02},{"t":7.69,"v":0.6},{"t":7.7,"v":0.78},{"t":7.71,"v":1.7},{"t":7.72,"v":0.65},{"t":7.73,"v":0.85},{"t":7.74,"v":0.55},{"t":7.75,"v":0.72},{"t":7.76,"v":0.62},
{"t":8.11,"v":0.7},{"t":8.25,"v":0.72},{"t":8.33,"v":0.94},{"t":8.34,"v":0.75},{"t":8.36,"v":0.62},{"t":8.54,"v":0.72},
{"t":10.58,"v":0.51},{"t":10.62,"v":0.63},{"t":10.68,"v":0.94},{"t":10.97,"v":1.14},{"t":10.99,"v":0.94},{"t":11.05,"v":0.82},{"t":11.08,"v":1.75},{"t":11.12,"v":0.9},{"t":11.14,"v":1.14},{"t":11.2,"v":0.94},{"t":11.4,"v":1.2},
{"t":11.72,"v":0.62},{"t":11.73,"v":0.7},{"t":11.75,"v":0.58},{"t":11.77,"v":0.66},{"t":11.79,"v":0.55},{"t":11.82,"v":0.62},{"t":11.85,"v":0.6},{"t":11.9,"v":0.55},{"t":11.95,"v":0.5},{"t":12.15,"v":0.55},{"t":12.16,"v":0.63},{"t":12.32,"v":0.6},{"t":12.34,"v":0.66},{"t":12.36,"v":0.58},{"t":12.47,"v":0.58},{"t":12.52,"v":0.55}
],
"pp":[
{"t":3.67,"v":0.4},{"t":3.69,"v":0.35},{"t":3.71,"v":0.3},{"t":3.73,"v":0.38},{"t":3.75,"v":0.25},{"t":3.77,"v":0.32},{"t":3.79,"v":0.4},{"t":3.81,"v":0.28},{"t":3.83,"v":0.35},{"t":3.85,"v":0.3},{"t":3.87,"v":0.36},{"t":3.89,"v":0.28},{"t":3.91,"v":0.22},{"t":3.93,"v":0.3},{"t":3.95,"v":0.34},{"t":4.0,"v":0.3},{"t":4.03,"v":0.2},{"t":4.05,"v":0.35},{"t":4.2,"v":0.3},{"t":4.22,"v":0.2},{"t":4.24,"v":0.15},{"t":4.27,"v":0.25},{"t":4.3,"v":0.12},{"t":4.32,"v":0.2},{"t":4.5,"v":0.35},{"t":4.52,"v":0.2},{"t":4.53,"v":0.4},
{"t":4.77,"v":0.4},{"t":4.79,"v":0.35},{"t":4.81,"v":0.42},{"t":4.83,"v":0.32},{"t":4.85,"v":0.38},{"t":4.87,"v":0.3},{"t":4.89,"v":0.25},{"t":4.91,"v":0.38},{"t":4.93,"v":0.33},{"t":4.95,"v":0.4},
{"t":5.02,"v":0.1},{"t":5.03,"v":-0.23},{"t":5.05,"v":0.2},{"t":5.07,"v":0.3},{"t":5.09,"v":0.15},{"t":5.11,"v":0.25},{"t":5.13,"v":0.32},{"t":5.15,"v":0.2},{"t":5.17,"v":0.28},{"t":5.19,"v":0.15},{"t":5.21,"v":0.3},{"t":5.23,"v":0.22},{"t":5.25,"v":0.35},{"t":5.27,"v":0.2},{"t":5.29,"v":0.28},{"t":5.31,"v":0.36},{"t":5.33,"v":0.25},{"t":5.35,"v":0.3},{"t":5.37,"v":0.2},{"t":5.39,"v":0.32},{"t":5.41,"v":0.38},{"t":5.43,"v":0.25},{"t":5.45,"v":-0.05},{"t":5.47,"v":0.3},{"t":5.49,"v":0.35},{"t":5.51,"v":0.28},{"t":5.53,"v":0.4},
{"t":5.66,"v":0.42},{"t":5.68,"v":0.35},{"t":5.7,"v":0.3},{"t":5.72,"v":0.4},{"t":5.75,"v":0.25},{"t":5.78,"v":0.32},{"t":5.8,"v":0.45},{"t":5.83,"v":0.3},{"t":5.86,"v":0.38},{"t":5.88,"v":0.22},{"t":5.91,"v":0.35},{"t":5.93,"v":0.28},{"t":5.96,"v":0.3},{"t":5.98,"v":0.4},{"t":6.1,"v":0.45},{"t":6.14,"v":0.48},
{"t":6.3,"v":0.45},{"t":6.35,"v":0.4},{"t":6.42,"v":0.48},{"t":6.5,"v":0.42},{"t":6.55,"v":0.38},{"t":6.62,"v":0.45},{"t":6.7,"v":0.4},{"t":6.78,"v":0.35},
{"t":7.45,"v":0.42},{"t":7.5,"v":0.35},{"t":7.55,"v":0.45},{"t":7.6,"v":0.3},{"t":7.64,"v":0.4},{"t":7.69,"v":0.34},{"t":7.72,"v":0.28},
{"t":8.07,"v":0.4},{"t":8.12,"v":0.45},{"t":8.18,"v":0.42},{"t":8.22,"v":0.35},{"t":8.26,"v":0.38},{"t":8.32,"v":0.42},{"t":8.36,"v":0.3},{"t":8.39,"v":0.28},
{"t":11.12,"v":0.51},
{"t":11.73,"v":0.4},{"t":11.76,"v":0.3},{"t":11.8,"v":0.45},{"t":11.83,"v":0.35},{"t":11.85,"v":0.25},{"t":11.88,"v":0.3},{"t":11.9,"v":0.2},{"t":11.93,"v":0.08},{"t":11.95,"v":0.25},{"t":11.97,"v":0.3},
{"t":12.15,"v":0.38},{"t":12.32,"v":0.4},{"t":12.36,"v":0.34},{"t":12.38,"v":0.32}
],
"bq":[
{"t":3.7,"v":1.03},{"t":3.705,"v":0.95},{"t":3.71,"v":0.91},{"t":3.715,"v":0.86},{"t":3.72,"v":0.81},{"t":3.73,"v":0.75},{"t":3.74,"v":0.72},{"t":3.75,"v":0.62},{"t":3.76,"v":0.7},{"t":3.765,"v":0.55},{"t":3.77,"v":0.48},{"t":3.78,"v":0.52},{"t":3.79,"v":0.42},{"t":3.8,"v":0.45},{"t":3.82,"v":0.38},{"t":3.83,"v":0.44},{"t":3.85,"v":0.35},{"t":3.87,"v":0.4},{"t":3.88,"v":0.36},{"t":3.9,"v":0.42},{"t":3.92,"v":0.38},{"t":3.94,"v":0.45},{"t":3.96,"v":0.5},{"t":3.97,"v":0.55},{"t":3.99,"v":0.48},{"t":4.01,"v":0.44},{"t":4.03,"v":0.38},{"t":4.05,"v":0.33},{"t":4.07,"v":0.42},{"t":4.09,"v":0.55},{"t":4.1,"v":0.35},{"t":4.12,"v":0.26},{"t":4.13,"v":0.3},{"t":4.15,"v":0.39},{"t":4.17,"v":0.33},{"t":4.18,"v":0.44},{"t":4.2,"v":0.38},{"t":4.21,"v":0.49},{"t":4.22,"v":0.3},{"t":4.24,"v":0.33},{"t":4.25,"v":0.42},{"t":4.27,"v":0.46},{"t":4.35,"v":0.57},{"t":4.36,"v":0.6},
{"t":4.5,"v":1.08},{"t":4.505,"v":1.14},{"t":4.51,"v":1.1},{"t":4.52,"v":0.78},
{"t":4.77,"v":0.82},{"t":4.79,"v":0.78},{"t":4.81,"v":0.85},{"t":4.83,"v":0.88},{"t":4.84,"v":0.8},{"t":4.86,"v":0.75},{"t":4.88,"v":0.82},{"t":4.9,"v":0.72},{"t":4.93,"v":0.75},{"t":4.96,"v":0.73},
{"t":5.05,"v":1.03},{"t":5.06,"v":0.6},{"t":5.07,"v":0.5},{"t":5.08,"v":0.39},{"t":5.09,"v":0.55},{"t":5.1,"v":0.6},{"t":5.12,"v":0.52},{"t":5.14,"v":0.58},{"t":5.16,"v":0.5},{"t":5.18,"v":0.55},{"t":5.2,"v":0.6},{"t":5.22,"v":0.52},{"t":5.24,"v":0.56},{"t":5.26,"v":0.48},{"t":5.28,"v":0.58},{"t":5.3,"v":0.55},{"t":5.32,"v":0.62},{"t":5.34,"v":0.58},{"t":5.36,"v":0.62},{"t":5.38,"v":0.66},{"t":5.4,"v":0.6},{"t":5.42,"v":0.68},{"t":5.44,"v":0.64},{"t":5.46,"v":0.7},{"t":5.48,"v":0.66},{"t":5.5,"v":0.72},{"t":5.52,"v":0.68},{"t":5.54,"v":0.7},{"t":5.56,"v":0.66},{"t":5.58,"v":0.72},{"t":5.6,"v":0.68},{"t":5.62,"v":0.74},{"t":5.64,"v":0.7},{"t":5.66,"v":0.76},{"t":5.68,"v":0.72},{"t":5.7,"v":0.78},{"t":5.72,"v":0.7},{"t":5.74,"v":0.74},{"t":5.76,"v":0.68},{"t":5.78,"v":0.72},{"t":5.8,"v":0.64},{"t":5.82,"v":0.68},{"t":5.84,"v":0.6},{"t":5.86,"v":0.64},{"t":5.88,"v":0.56},{"t":5.9,"v":0.62},{"t":5.92,"v":0.5},{"t":5.94,"v":0.58},{"t":5.96,"v":0.62},{"t":5.98,"v":0.7},{"t":5.99,"v":0.73},
{"t":6.1,"v":0.9},{"t":6.12,"v":0.98},{"t":6.13,"v":0.93},{"t":6.16,"v":0.78},
{"t":6.29,"v":0.75},{"t":6.31,"v":0.72},{"t":6.33,"v":0.68},{"t":6.35,"v":0.78},{"t":6.37,"v":0.82},{"t":6.39,"v":0.75},{"t":6.41,"v":0.85},{"t":6.43,"v":0.8},{"t":6.45,"v":0.76},{"t":6.47,"v":0.82},{"t":6.49,"v":0.7},{"t":6.51,"v":0.74},{"t":6.53,"v":0.68},{"t":6.55,"v":0.62},{"t":6.57,"v":0.58},{"t":6.58,"v":0.52},{"t":6.6,"v":0.6},{"t":6.62,"v":0.55},{"t":6.64,"v":0.62},{"t":6.66,"v":0.68},{"t":6.68,"v":0.72},{"t":6.7,"v":0.65},{"t":6.72,"v":0.7},{"t":6.74,"v":0.62},{"t":6.76,"v":0.66},{"t":6.78,"v":0.72},{"t":6.8,"v":0.68},
{"t":7.38,"v":0.78},{"t":7.4,"v":0.65},{"t":7.42,"v":0.72},{"t":7.43,"v":0.87},{"t":7.44,"v":0.6},{"t":7.45,"v":0.52},{"t":7.46,"v":0.68},{"t":7.48,"v":0.49},{"t":7.49,"v":0.75},{"t":7.5,"v":0.62},{"t":7.52,"v":0.8},{"t":7.54,"v":0.66},{"t":7.55,"v":0.97},{"t":7.56,"v":0.72},{"t":7.58,"v":0.75},{"t":7.6,"v":0.85},{"t":7.61,"v":0.62},{"t":7.63,"v":0.91},{"t":7.64,"v":0.72},{"t":7.65,"v":0.8},{"t":7.66,"v":0.88},{"t":7.67,"v":0.68},{"t":7.68,"v":0.82},{"t":7.69,"v":0.75},{"t":7.7,"v":0.9},{"t":7.71,"v":0.68},{"t":7.72,"v":0.8},{"t":7.73,"v":0.72},
{"t":7.96,"v":0.49},{"t":7.97,"v":0.4},{"t":7.98,"v":0.26},{"t":7.99,"v":0.35},{"t":8.0,"v":0.45},{"t":8.02,"v":0.39},{"t":8.04,"v":0.3},{"t":8.05,"v":0.42},{"t":8.07,"v":0.33},{"t":8.09,"v":0.38},{"t":8.11,"v":0.33},{"t":8.13,"v":0.45},{"t":8.15,"v":0.38},{"t":8.17,"v":0.48},{"t":8.19,"v":0.68},{"t":8.21,"v":0.59},{"t":8.23,"v":0.46},{"t":8.24,"v":0.52},
{"t":8.33,"v":1.14},{"t":8.335,"v":1.1},{"t":8.34,"v":1.05},{"t":8.345,"v":0.98},{"t":8.35,"v":0.87},{"t":8.36,"v":0.82},{"t":8.37,"v":0.78},{"t":8.38,"v":0.72},{"t":8.39,"v":0.65},{"t":8.4,"v":0.62},{"t":8.41,"v":0.58},{"t":8.42,"v":0.55},{"t":8.43,"v":0.52},{"t":8.44,"v":0.49}
]
},
"vconcat":[
{
 "title":"DIQ - 2025-03-02",
 "width":1332,"height":299,
 "encoding":{
  "x":{"field":"t","type":"quantitative","scale":{"domain":[1.49,12.955],"nice":false,"zero":false},"axis":{"title":null,"values":[2,3,4,5,6,7,8,9,10,11,12],"labelExpr":"(datum.value < 10 ? '0' : '') + datum.value + ':00'","grid":false,"domainColor":"#000","domainWidth":1.5,"tickColor":"#888","tickSize":-5,"labelPadding":10,"labelFlush":false}},
  "y":{"field":"v","type":"quantitative","scale":{"domain":[0.22,5.25],"nice":false,"zero":false},"axis":null}
 },
 "layer":[
  {"data":{"name":"gc1"},"mark":{"type":"line","stroke":"#a8a8a8","strokeWidth":0.7,"opacity":0.45},
   "encoding":{"detail":{"field":"g","type":"nominal"},"y":{"field":"v","type":"quantitative","scale":{"domain":[0.22,5.25],"nice":false,"zero":false},"axis":{"orient":"left","title":null,"values":[1,2,3,4,5],"format":"d","grid":true,"gridColor":"#707070","gridWidth":1,"ticks":false,"domainColor":"#000","domainWidth":1,"labelPadding":6}}}},
  {"data":{"name":"gc1"},"mark":{"type":"point","shape":"M-1,-1L1,1M-1,1L1,-1","filled":false,"color":"#e5a545","strokeWidth":1.9,"size":55,"opacity":1},
   "encoding":{"y":{"field":"v","type":"quantitative","scale":{"domain":[0.22,5.25],"nice":false,"zero":false},"axis":{"orient":"left","title":null,"values":[0.4,0.6,0.8,1.2,1.4,1.6,1.8,2.2,2.4,2.6,2.8,3.2,3.4,3.6,3.8,4.2,4.4,4.6,4.8,5.2],"grid":true,"gridColor":"#d2d2d2","gridWidth":1,"ticks":false,"labels":false,"domain":false}}}},
  {"data":{"name":"gc1b"},"mark":{"type":"point","shape":"M-1,-1L1,1M-1,1L1,-1","filled":false,"color":"#e5a545","strokeWidth":1.9,"size":55,"opacity":1}},
  {"data":{"name":"gc2"},"mark":{"type":"line","stroke":"#a8a8a8","strokeWidth":0.7,"opacity":0.45},"encoding":{"detail":{"field":"g","type":"nominal"}}},
  {"data":{"name":"gc2"},"mark":{"type":"point","shape":"M-1,0L1,0M0,-1L0,1","filled":false,"color":"#2a8585","strokeWidth":1.6,"size":72,"opacity":1}},
  {"data":{"name":"gc2b"},"mark":{"type":"point","shape":"M-1,0L1,0M0,-1L0,1","filled":false,"color":"#2a8585","strokeWidth":1.6,"size":72,"opacity":1}},
  {"data":{"name":"wfs1"},"mark":{"type":"line","stroke":"#b0b0b0","strokeWidth":0.8,"opacity":0.7}},
  {"data":{"name":"wfs1"},"mark":{"type":"point","shape":"diamond","filled":true,"fill":"#ffa500","stroke":"#ff3300","strokeWidth":1.1,"size":78,"opacity":1}},
  {"data":{"name":"dimm"},"mark":{"type":"line","stroke":"#1414e6","strokeWidth":2}},
  {"data":{"name":"dimm"},"mark":{"type":"point","shape":"circle","filled":true,"fill":"#f0f060","stroke":"#1414e6","strokeWidth":1.8,"size":44,"opacity":1}},
  {"data":{"values":[{"s":"gc1","t":1.0,"v":3},{"s":"wfs1","t":1.0,"v":3},{"s":"dimm","t":1.0,"v":3},{"s":"gc2","t":1.0,"v":3},{"s":"wfs2","t":1.0,"v":3}]},
   "mark":{"type":"point","clip":true,"filled":true,"size":100,"strokeWidth":1.6,"opacity":1},
   "encoding":{
    "shape":{"field":"s","type":"nominal","scale":{"domain":["gc1","wfs1","dimm","gc2","wfs2"],"range":["M-1,-1L1,1M-1,1L1,-1","diamond","M-2.2,0H-0.6M0.6,0H2.2M0.6,0A0.6,0.6 0 1 1 -0.6,0A0.6,0.6 0 1 1 0.6,0Z","M-1,0L1,0M0,-1L0,1","triangle-down"]},
     "legend":{"title":null,"orient":"none","legendX":20,"legendY":5,"columns":2,"padding":14,"strokeColor":"#333","fillColor":"#fff","cornerRadius":0,"rowPadding":8,"columnPadding":26,"labelOffset":11,"symbolSize":100,"labelFontSize":13,"labelColor":"#000","symbolStrokeWidth":1.6,"symbolOpacity":1}},
    "stroke":{"field":"s","type":"nominal","scale":{"domain":["gc1","wfs1","dimm","gc2","wfs2"],"range":["#e5a545","#ff3300","#1414e6","#2a8585","#333344"]}},
    "fill":{"field":"s","type":"nominal","scale":{"domain":["gc1","wfs1","dimm","gc2","wfs2"],"range":["transparent","#ffa500","#f0f060","transparent","#555566"]}}
   }}
 ],
 "resolve":{"axis":{"y":"independent"}}
},
{
 "title":"Guider — WFS",
 "width":1332,"height":107,
 "encoding":{
  "x":{"field":"t","type":"quantitative","scale":{"domain":[1.49,12.955],"nice":false,"zero":false},"axis":{"title":null,"values":[2,3,4,5,6,7,8,9,10,11,12],"labelExpr":"(datum.value < 10 ? '0' : '') + datum.value + ':00'","grid":false,"domainColor":"#000","domainWidth":1.5,"tickColor":"#888","tickSize":-5,"labelPadding":10,"labelFlush":false}},
  "y":{"field":"v","type":"quantitative","scale":{"domain":[-1.36,2.5],"nice":false,"zero":false},"axis":null}
 },
 "layer":[
  {"data":{"name":"gr"},"mark":{"type":"line","stroke":"#c4c4c4","strokeWidth":1},
   "encoding":{"y":{"field":"v","type":"quantitative","scale":{"domain":[-1.36,2.5],"nice":false,"zero":false},"axis":{"orient":"left","title":null,"values":[-1,0,1,2],"labelExpr":"datum.value < 0 ? '−' + abs(datum.value) : '' + datum.value","grid":true,"gridColor":"#707070","gridWidth":1,"ticks":false,"domainColor":"#000","domainWidth":1,"labelPadding":6}}}},
  {"data":{"name":"pp"},"mark":{"type":"line","stroke":"#c4c4c4","strokeWidth":1},
   "encoding":{"y":{"field":"v","type":"quantitative","scale":{"domain":[-1.36,2.5],"nice":false,"zero":false},"axis":{"orient":"left","title":null,"values":[-0.5,0.5,1.5,2.5],"grid":true,"gridColor":"#b4b4b4","gridWidth":1,"ticks":false,"labels":false,"domain":false}}}},
  {"data":{"name":"pp"},"mark":{"type":"point","shape":"circle","filled":true,"fill":"#800080","stroke":"#e2d2ea","strokeWidth":1,"size":72,"opacity":1},
   "encoding":{"y":{"field":"v","type":"quantitative","scale":{"domain":[-1.36,2.5],"nice":false,"zero":false},"axis":{"orient":"left","title":null,"values":[-1.3,-1.2,-1.1,-0.9,-0.8,-0.7,-0.6,-0.4,-0.3,-0.2,-0.1,0.1,0.2,0.3,0.4,0.6,0.7,0.8,0.9,1.1,1.2,1.3,1.4,1.6,1.7,1.8,1.9,2.1,2.2,2.3,2.4],"grid":true,"gridColor":"#ececec","gridWidth":1,"ticks":false,"labels":false,"domain":false}}}},
  {"data":{"name":"gr"},"mark":{"type":"point","shape":"M-1,-1L1,1M-1,1L1,-1","filled":false,"color":"#ff0000","strokeWidth":2.2,"size":45,"opacity":1}}
 ],
 "resolve":{"axis":{"y":"independent"}}
},
{
 "title":"BLIQ+HO+LO — BLIQ+HO",
 "width":1332,"height":109,
 "encoding":{
  "x":{"field":"t","type":"quantitative","scale":{"domain":[1.49,12.955],"nice":false,"zero":false},"axis":{"title":null,"values":[2,3,4,5,6,7,8,9,10,11,12],"labelExpr":"(datum.value < 10 ? '0' : '') + datum.value + ':00'","grid":false,"domainColor":"#000","domainWidth":1.5,"tickColor":"#888","tickSize":-5,"labelPadding":10,"labelFlush":false}},
  "y":{"field":"v","type":"quantitative","scale":{"domain":[-0.18,1.97],"nice":false,"zero":false},"axis":null}
 },
 "layer":[
  {"data":{"name":"bq"},"mark":{"type":"point","opacity":0},
   "encoding":{"y":{"field":"v","type":"quantitative","scale":{"domain":[-0.18,1.97],"nice":false,"zero":false},"axis":{"orient":"left","title":null,"values":[0,0.5,1,1.5],"labelExpr":"datum.value == 0 ? '0' : format(datum.value, '.1f')","grid":true,"gridColor":"#707070","gridWidth":1,"ticks":false,"domainColor":"#000","domainWidth":1,"labelPadding":6}}}},
  {"data":{"values":[{"t0":1.79,"t1":12.65,"y0":0.5,"y1":1.0}]},"mark":{"type":"rect","fill":"#f7d4d4","opacity":0.45},
   "encoding":{"x":{"field":"t0","type":"quantitative","scale":{"domain":[1.49,12.955],"nice":false,"zero":false}},"x2":{"field":"t1"},
    "y":{"field":"y0","type":"quantitative","scale":{"domain":[-0.18,1.97],"nice":false,"zero":false},"axis":{"orient":"left","title":null,"values":[-0.15,-0.1,-0.05,0.05,0.1,0.15,0.2,0.25,0.3,0.35,0.4,0.45,0.55,0.6,0.65,0.7,0.75,0.8,0.85,0.9,0.95,1.05,1.1,1.15,1.2,1.25,1.3,1.35,1.4,1.45,1.55,1.6,1.65,1.7,1.75,1.8,1.85,1.9,1.95],"grid":true,"gridColor":"#e6e6e6","gridWidth":1,"ticks":false,"labels":false,"domain":false}},"y2":{"field":"y1"}}},
  {"data":{"values":[{"t0":1.79,"t1":12.65,"y":0.5},{"t0":1.79,"t1":12.65,"y":1.0}]},"mark":{"type":"rule","color":"#b22222","strokeWidth":1.3,"strokeDash":[5,3]},
   "encoding":{"x":{"field":"t0","type":"quantitative","scale":{"domain":[1.49,12.955],"nice":false,"zero":false}},"x2":{"field":"t1"},"y":{"field":"y","type":"quantitative","scale":{"domain":[-0.18,1.97],"nice":false,"zero":false},"axis":null}}},
  {"data":{"name":"bq"},"mark":{"type":"point","shape":"circle","filled":true,"fill":"#0b0b78","stroke":"#c8c8ec","strokeWidth":0.8,"size":66,"opacity":1}}
 ],
 "resolve":{"axis":{"y":"independent"}}
}
]
}
